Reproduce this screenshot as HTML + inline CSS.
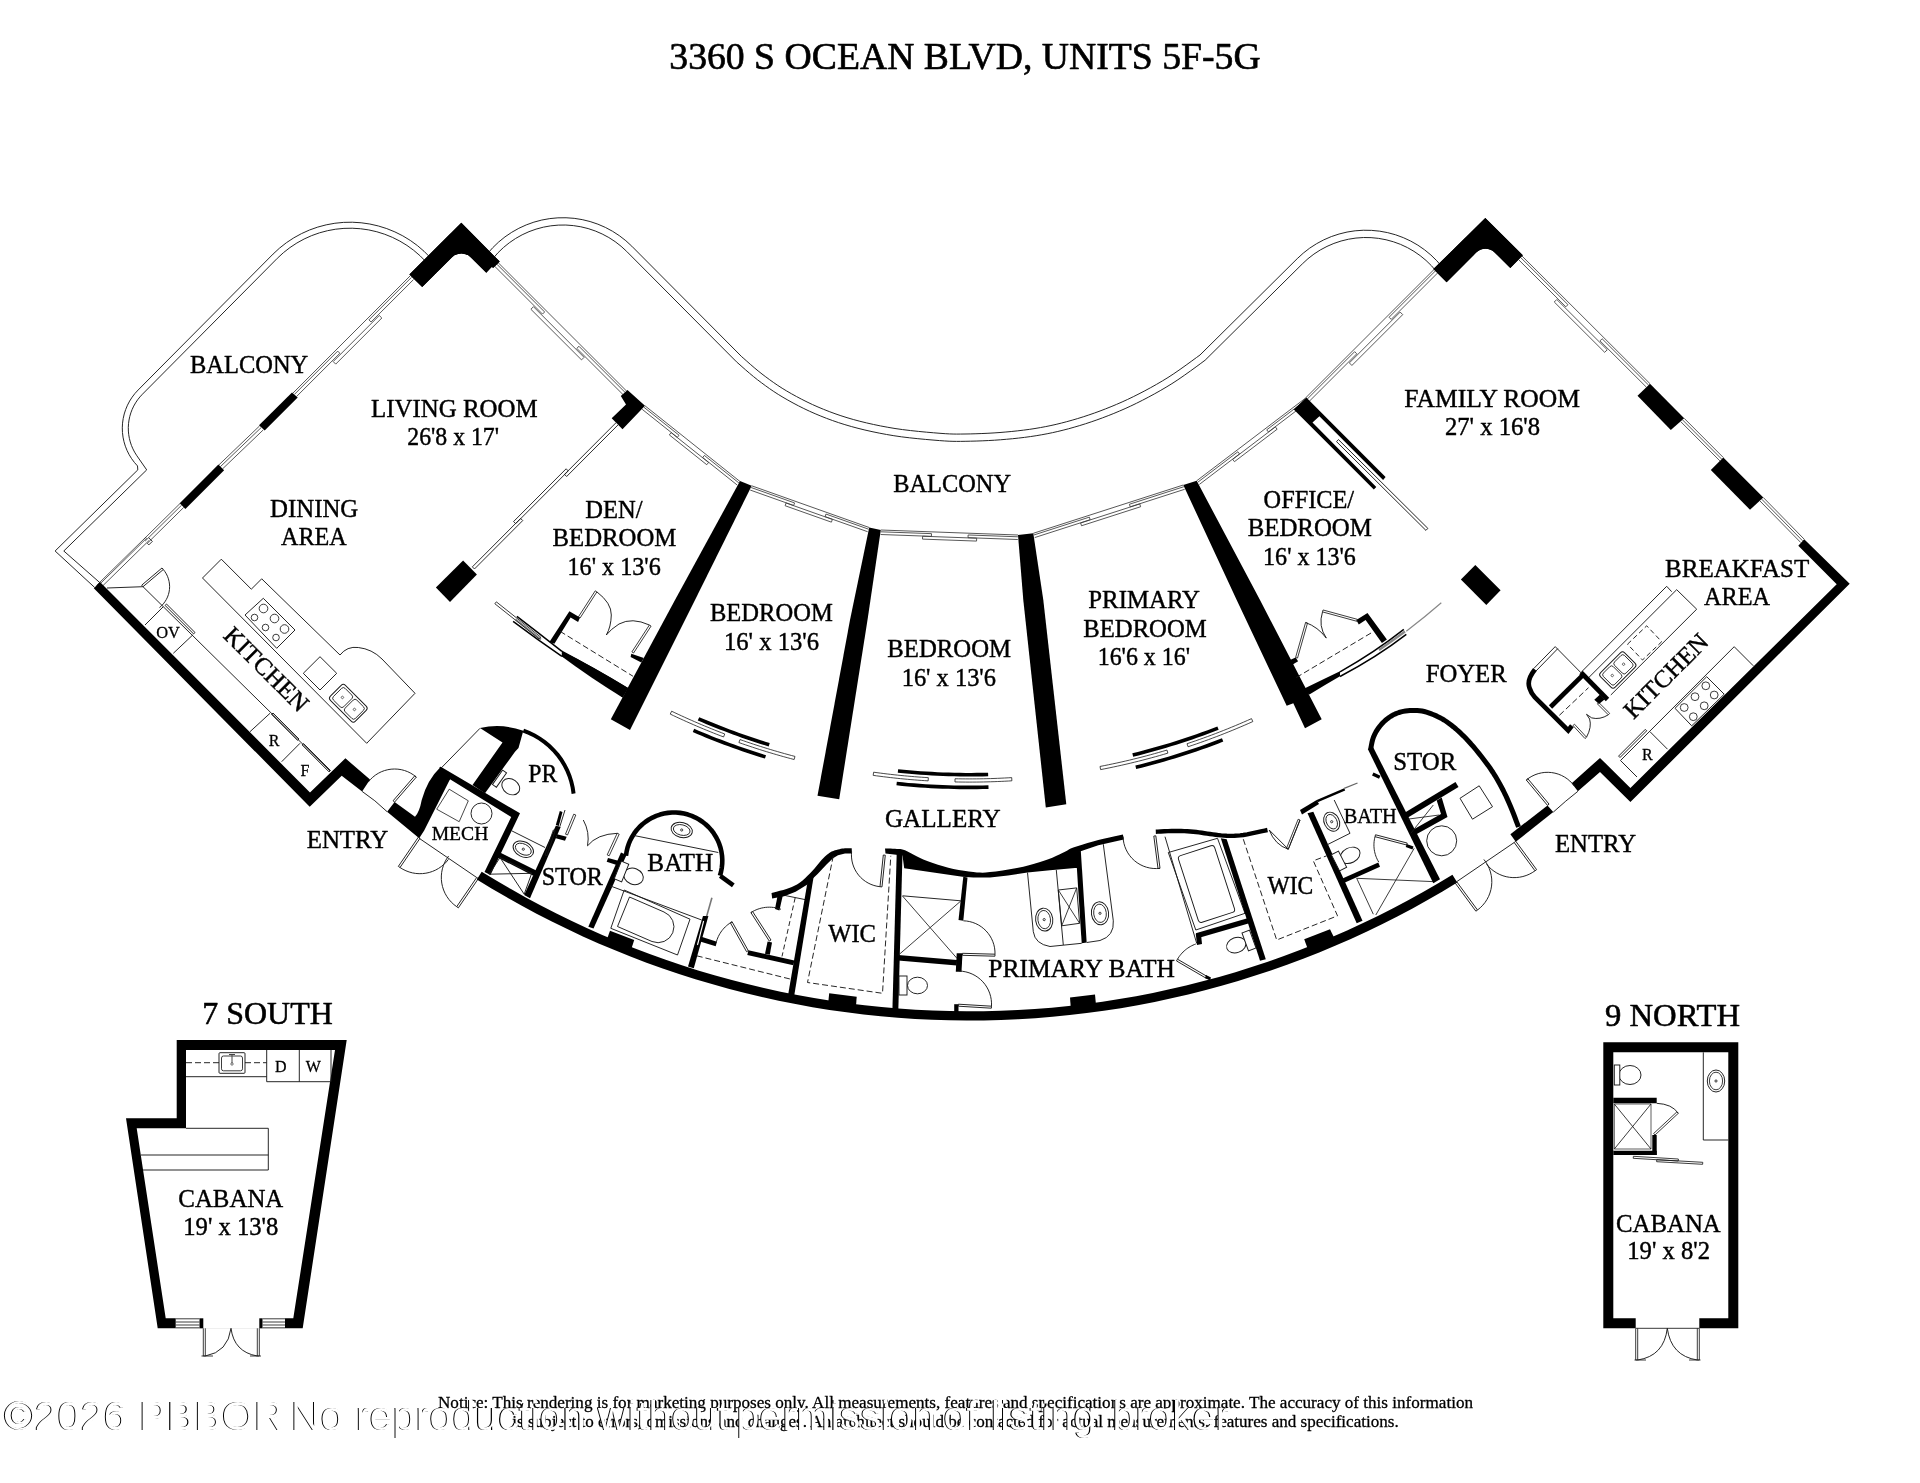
<!DOCTYPE html>
<html><head><meta charset="utf-8"><title>3360 S Ocean Blvd, Units 5F-5G</title>
<style>html,body{margin:0;padding:0;background:#fff}svg{display:block;will-change:transform}</style></head>
<body><svg width="1920" height="1483" viewBox="0 0 1920 1483">
<rect width="1920" height="1483" fill="#fff"/>
<text x="965" y="69.3" font-size="37.7" text-anchor="middle" font-family="'Liberation Serif','DejaVu Serif',serif" fill="#000" textLength="591.4" lengthAdjust="spacingAndGlyphs" stroke="#000" stroke-width="0.64" stroke-linejoin="round">3360 S OCEAN BLVD, UNITS 5F-5G</text>
<text x="249.15" y="372.7" font-size="24.7" text-anchor="middle" font-family="'Liberation Serif','DejaVu Serif',serif" fill="#000" textLength="118.3" lengthAdjust="spacingAndGlyphs" stroke="#000" stroke-width="0.42" stroke-linejoin="round">BALCONY</text>
<text x="454.35" y="416.7" font-size="24.7" text-anchor="middle" font-family="'Liberation Serif','DejaVu Serif',serif" fill="#000" textLength="166.7" lengthAdjust="spacingAndGlyphs" stroke="#000" stroke-width="0.42" stroke-linejoin="round">LIVING ROOM</text>
<text x="453.15" y="445" font-size="24.7" text-anchor="middle" font-family="'Liberation Serif','DejaVu Serif',serif" fill="#000" textLength="91.7" lengthAdjust="spacingAndGlyphs" stroke="#000" stroke-width="0.42" stroke-linejoin="round">26'8 x 17'</text>
<text x="314.15" y="516.7" font-size="24.7" text-anchor="middle" font-family="'Liberation Serif','DejaVu Serif',serif" fill="#000" textLength="88.3" lengthAdjust="spacingAndGlyphs" stroke="#000" stroke-width="0.42" stroke-linejoin="round">DINING</text>
<text x="313.85" y="545" font-size="24.7" text-anchor="middle" font-family="'Liberation Serif','DejaVu Serif',serif" fill="#000" textLength="65.7" lengthAdjust="spacingAndGlyphs" stroke="#000" stroke-width="0.42" stroke-linejoin="round">AREA</text>
<text x="613.9" y="517.5" font-size="24.7" text-anchor="middle" font-family="'Liberation Serif','DejaVu Serif',serif" fill="#000" textLength="57.2" lengthAdjust="spacingAndGlyphs" stroke="#000" stroke-width="0.42" stroke-linejoin="round">DEN/</text>
<text x="614.4" y="546.1" font-size="24.7" text-anchor="middle" font-family="'Liberation Serif','DejaVu Serif',serif" fill="#000" textLength="123.8" lengthAdjust="spacingAndGlyphs" stroke="#000" stroke-width="0.42" stroke-linejoin="round">BEDROOM</text>
<text x="614.15" y="574.7" font-size="24.7" text-anchor="middle" font-family="'Liberation Serif','DejaVu Serif',serif" fill="#000" textLength="93.3" lengthAdjust="spacingAndGlyphs" stroke="#000" stroke-width="0.42" stroke-linejoin="round">16' x 13'6</text>
<text x="952.15" y="491.7" font-size="24.7" text-anchor="middle" font-family="'Liberation Serif','DejaVu Serif',serif" fill="#000" textLength="117.7" lengthAdjust="spacingAndGlyphs" stroke="#000" stroke-width="0.42" stroke-linejoin="round">BALCONY</text>
<text x="771.35" y="621" font-size="24.7" text-anchor="middle" font-family="'Liberation Serif','DejaVu Serif',serif" fill="#000" textLength="122.7" lengthAdjust="spacingAndGlyphs" stroke="#000" stroke-width="0.42" stroke-linejoin="round">BEDROOM</text>
<text x="771.5" y="650" font-size="24.7" text-anchor="middle" font-family="'Liberation Serif','DejaVu Serif',serif" fill="#000" textLength="95" lengthAdjust="spacingAndGlyphs" stroke="#000" stroke-width="0.42" stroke-linejoin="round">16' x 13'6</text>
<text x="949.15" y="657.3" font-size="24.7" text-anchor="middle" font-family="'Liberation Serif','DejaVu Serif',serif" fill="#000" textLength="123.7" lengthAdjust="spacingAndGlyphs" stroke="#000" stroke-width="0.42" stroke-linejoin="round">BEDROOM</text>
<text x="948.85" y="685.7" font-size="24.7" text-anchor="middle" font-family="'Liberation Serif','DejaVu Serif',serif" fill="#000" textLength="94.3" lengthAdjust="spacingAndGlyphs" stroke="#000" stroke-width="0.42" stroke-linejoin="round">16' x 13'6</text>
<text x="1144.15" y="608.3" font-size="24.7" text-anchor="middle" font-family="'Liberation Serif','DejaVu Serif',serif" fill="#000" textLength="111.7" lengthAdjust="spacingAndGlyphs" stroke="#000" stroke-width="0.42" stroke-linejoin="round">PRIMARY</text>
<text x="1145" y="636.7" font-size="24.7" text-anchor="middle" font-family="'Liberation Serif','DejaVu Serif',serif" fill="#000" textLength="123.4" lengthAdjust="spacingAndGlyphs" stroke="#000" stroke-width="0.42" stroke-linejoin="round">BEDROOM</text>
<text x="1143.85" y="665" font-size="24.7" text-anchor="middle" font-family="'Liberation Serif','DejaVu Serif',serif" fill="#000" textLength="92.3" lengthAdjust="spacingAndGlyphs" stroke="#000" stroke-width="0.42" stroke-linejoin="round">16'6 x 16'</text>
<text x="1308.85" y="508" font-size="24.7" text-anchor="middle" font-family="'Liberation Serif','DejaVu Serif',serif" fill="#000" textLength="90.5" lengthAdjust="spacingAndGlyphs" stroke="#000" stroke-width="0.42" stroke-linejoin="round">OFFICE/</text>
<text x="1309.8" y="536.1" font-size="24.7" text-anchor="middle" font-family="'Liberation Serif','DejaVu Serif',serif" fill="#000" textLength="124.2" lengthAdjust="spacingAndGlyphs" stroke="#000" stroke-width="0.42" stroke-linejoin="round">BEDROOM</text>
<text x="1309.5" y="564.7" font-size="24.7" text-anchor="middle" font-family="'Liberation Serif','DejaVu Serif',serif" fill="#000" textLength="92.8" lengthAdjust="spacingAndGlyphs" stroke="#000" stroke-width="0.42" stroke-linejoin="round">16' x 13'6</text>
<text x="1492.15" y="406.7" font-size="25.2" text-anchor="middle" font-family="'Liberation Serif','DejaVu Serif',serif" fill="#000" textLength="175.7" lengthAdjust="spacingAndGlyphs" stroke="#000" stroke-width="0.43" stroke-linejoin="round">FAMILY ROOM</text>
<text x="1492.5" y="435" font-size="24.7" text-anchor="middle" font-family="'Liberation Serif','DejaVu Serif',serif" fill="#000" textLength="95" lengthAdjust="spacingAndGlyphs" stroke="#000" stroke-width="0.42" stroke-linejoin="round">27' x 16'8</text>
<text x="1737.15" y="576.7" font-size="24.7" text-anchor="middle" font-family="'Liberation Serif','DejaVu Serif',serif" fill="#000" textLength="144.3" lengthAdjust="spacingAndGlyphs" stroke="#000" stroke-width="0.42" stroke-linejoin="round">BREAKFAST</text>
<text x="1737" y="605" font-size="24.7" text-anchor="middle" font-family="'Liberation Serif','DejaVu Serif',serif" fill="#000" textLength="66" lengthAdjust="spacingAndGlyphs" stroke="#000" stroke-width="0.42" stroke-linejoin="round">AREA</text>
<text x="1466.2" y="681.7" font-size="24.7" text-anchor="middle" font-family="'Liberation Serif','DejaVu Serif',serif" fill="#000" textLength="81" lengthAdjust="spacingAndGlyphs" stroke="#000" stroke-width="0.42" stroke-linejoin="round">FOYER</text>
<text x="942.85" y="827.3" font-size="25" text-anchor="middle" font-family="'Liberation Serif','DejaVu Serif',serif" fill="#000" textLength="115.7" lengthAdjust="spacingAndGlyphs" stroke="#000" stroke-width="0.43" stroke-linejoin="round">GALLERY</text>
<text x="347.5" y="848.3" font-size="24.7" text-anchor="middle" font-family="'Liberation Serif','DejaVu Serif',serif" fill="#000" textLength="81.6" lengthAdjust="spacingAndGlyphs" stroke="#000" stroke-width="0.42" stroke-linejoin="round">ENTRY</text>
<text x="1595.5" y="851.7" font-size="24.7" text-anchor="middle" font-family="'Liberation Serif','DejaVu Serif',serif" fill="#000" textLength="81" lengthAdjust="spacingAndGlyphs" stroke="#000" stroke-width="0.42" stroke-linejoin="round">ENTRY</text>
<text x="460" y="840" font-size="19.6" text-anchor="middle" font-family="'Liberation Serif','DejaVu Serif',serif" fill="#000" textLength="56.6" lengthAdjust="spacingAndGlyphs" stroke="#000" stroke-width="0.33" stroke-linejoin="round">MECH</text>
<text x="542.8" y="781.7" font-size="24.7" text-anchor="middle" font-family="'Liberation Serif','DejaVu Serif',serif" fill="#000" textLength="29" lengthAdjust="spacingAndGlyphs" stroke="#000" stroke-width="0.42" stroke-linejoin="round">PR</text>
<text x="572.35" y="885" font-size="24.7" text-anchor="middle" font-family="'Liberation Serif','DejaVu Serif',serif" fill="#000" textLength="61.3" lengthAdjust="spacingAndGlyphs" stroke="#000" stroke-width="0.42" stroke-linejoin="round">STOR</text>
<text x="680.3" y="871.3" font-size="25" text-anchor="middle" font-family="'Liberation Serif','DejaVu Serif',serif" fill="#000" textLength="66" lengthAdjust="spacingAndGlyphs" stroke="#000" stroke-width="0.43" stroke-linejoin="round">BATH</text>
<text x="852.15" y="941.7" font-size="24.7" text-anchor="middle" font-family="'Liberation Serif','DejaVu Serif',serif" fill="#000" textLength="47.7" lengthAdjust="spacingAndGlyphs" stroke="#000" stroke-width="0.42" stroke-linejoin="round">WIC</text>
<text x="1081.65" y="976.7" font-size="25.2" text-anchor="middle" font-family="'Liberation Serif','DejaVu Serif',serif" fill="#000" textLength="186.7" lengthAdjust="spacingAndGlyphs" stroke="#000" stroke-width="0.43" stroke-linejoin="round">PRIMARY BATH</text>
<text x="1290.4" y="894.2" font-size="24.7" text-anchor="middle" font-family="'Liberation Serif','DejaVu Serif',serif" fill="#000" textLength="45.8" lengthAdjust="spacingAndGlyphs" stroke="#000" stroke-width="0.42" stroke-linejoin="round">WIC</text>
<text x="1370.2" y="823" font-size="20.3" text-anchor="middle" font-family="'Liberation Serif','DejaVu Serif',serif" fill="#000" textLength="53" lengthAdjust="spacingAndGlyphs" stroke="#000" stroke-width="0.35" stroke-linejoin="round">BATH</text>
<text x="1424.8" y="769.7" font-size="24.7" text-anchor="middle" font-family="'Liberation Serif','DejaVu Serif',serif" fill="#000" textLength="63" lengthAdjust="spacingAndGlyphs" stroke="#000" stroke-width="0.42" stroke-linejoin="round">STOR</text>
<text x="260.6" y="675.1" font-size="24.7" text-anchor="middle" font-family="'Liberation Serif','DejaVu Serif',serif" fill="#000" transform="rotate(45 260.6 675.1)" stroke="#000" stroke-width="0.42" stroke-linejoin="round">KITCHEN</text>
<text x="1671.7" y="681.7" font-size="24.7" text-anchor="middle" font-family="'Liberation Serif','DejaVu Serif',serif" fill="#000" transform="rotate(-45 1671.7 681.7)" stroke="#000" stroke-width="0.42" stroke-linejoin="round">KITCHEN</text>
<text x="168" y="637.5" font-size="16.4" text-anchor="middle" font-family="'Liberation Serif','DejaVu Serif',serif" fill="#000" stroke="#000" stroke-width="0.28" stroke-linejoin="round">OV</text>
<text x="274" y="746" font-size="16" text-anchor="middle" font-family="'Liberation Serif','DejaVu Serif',serif" fill="#000" stroke="#000" stroke-width="0.27" stroke-linejoin="round">R</text>
<text x="305" y="776" font-size="16" text-anchor="middle" font-family="'Liberation Serif','DejaVu Serif',serif" fill="#000" stroke="#000" stroke-width="0.27" stroke-linejoin="round">F</text>
<text x="1647.4" y="759.6" font-size="16" text-anchor="middle" font-family="'Liberation Serif','DejaVu Serif',serif" fill="#000" stroke="#000" stroke-width="0.27" stroke-linejoin="round">R</text>
<text x="267.5" y="1024" font-size="32" text-anchor="middle" font-family="'Liberation Serif','DejaVu Serif',serif" fill="#000" textLength="130.4" lengthAdjust="spacingAndGlyphs" stroke="#000" stroke-width="0.54" stroke-linejoin="round">7 SOUTH</text>
<text x="1672.5" y="1026" font-size="32.5" text-anchor="middle" font-family="'Liberation Serif','DejaVu Serif',serif" fill="#000" textLength="135" lengthAdjust="spacingAndGlyphs" stroke="#000" stroke-width="0.55" stroke-linejoin="round">9 NORTH</text>
<text x="230.8" y="1206.7" font-size="24.7" text-anchor="middle" font-family="'Liberation Serif','DejaVu Serif',serif" fill="#000" textLength="105" lengthAdjust="spacingAndGlyphs" stroke="#000" stroke-width="0.42" stroke-linejoin="round">CABANA</text>
<text x="230.8" y="1235" font-size="24.7" text-anchor="middle" font-family="'Liberation Serif','DejaVu Serif',serif" fill="#000" textLength="95" lengthAdjust="spacingAndGlyphs" stroke="#000" stroke-width="0.42" stroke-linejoin="round">19' x 13'8</text>
<text x="1668.35" y="1231.7" font-size="24.7" text-anchor="middle" font-family="'Liberation Serif','DejaVu Serif',serif" fill="#000" textLength="104.7" lengthAdjust="spacingAndGlyphs" stroke="#000" stroke-width="0.42" stroke-linejoin="round">CABANA</text>
<text x="1668.65" y="1259.3" font-size="24.7" text-anchor="middle" font-family="'Liberation Serif','DejaVu Serif',serif" fill="#000" textLength="82.7" lengthAdjust="spacingAndGlyphs" stroke="#000" stroke-width="0.42" stroke-linejoin="round">19' x 8'2</text>
<text x="280.7" y="1071.7" font-size="16" text-anchor="middle" font-family="'Liberation Serif','DejaVu Serif',serif" fill="#000" stroke="#000" stroke-width="0.27" stroke-linejoin="round">D</text>
<text x="313.3" y="1071.7" font-size="16" text-anchor="middle" font-family="'Liberation Serif','DejaVu Serif',serif" fill="#000" stroke="#000" stroke-width="0.27" stroke-linejoin="round">W</text>
<path d="M409.4,274.4 L461.3,222.8 L499.7,261.6 L493.4,267.8 L491.6,267 L486.3,272.8 L470.9,257.4 A13.5,13.5 0 0 0 451.8,257.4 L422.2,286.9 Z" fill="#000"/>
<polyline points="430.22,257.5 424.03,251.27 417.36,245.56 410.25,240.4 402.75,235.84 394.9,231.9 386.77,228.6 378.39,225.97 369.83,224.02 361.14,222.77 352.37,222.23 343.59,222.39 334.86,223.26 326.22,224.83 317.74,227.09 309.46,230.03 301.45,233.63 293.76,237.86 286.43,242.7 279.52,248.11 273.07,254.07 138.17,389.97 135.01,393.42 132.16,397.13 129.64,401.06 127.47,405.2 125.66,409.52 124.23,413.97 123.19,418.53 122.54,423.16 122.3,427.83 122.46,432.5 123.03,437.14 123.99,441.72 125.34,446.19 127.07,450.54 129.17,454.71 131.63,458.7 134.41,462.45 137.51,465.95 137.8,469.9 55.1,551 94.7,587.5" fill="none" stroke="#1a1a1a" stroke-width="0.95"/>
<polyline points="425.79,261.55 419.95,255.66 413.64,250.27 406.93,245.4 399.84,241.09 392.43,237.36 384.74,234.25 376.82,231.76 368.73,229.92 360.52,228.74 352.24,228.22 343.95,228.38 335.69,229.2 327.53,230.69 319.52,232.82 311.7,235.6 304.13,239 296.86,243 289.94,247.57 283.41,252.68 277.31,258.31 142.42,394.22 139.91,396.93 137.62,399.82 135.55,402.88 133.72,406.09 132.15,409.42 130.84,412.87 129.79,416.41 129.02,420.02 128.52,423.68 128.31,427.37 128.38,431.06 128.73,434.73 129.36,438.37 130.27,441.94 131.45,445.44 132.9,448.84 134.59,452.12 136.54,455.25 146.7,469.9 63.8,551 100,582.8" fill="none" stroke="#1a1a1a" stroke-width="0.95"/>
<polyline points="410,276 293,393" fill="none" stroke="#3a3a3a" stroke-width="0.85"/>
<polyline points="411.41,277.41 368.94,319.89 371.06,322.01 413.54,279.54" fill="none" stroke="#3a3a3a" stroke-width="0.85"/>
<polyline points="294.41,394.41 337.7,351.12 339.83,353.25 296.54,396.54" fill="none" stroke="#3a3a3a" stroke-width="0.85"/>
<polygon points="379.28,315.48 333.19,361.58 335.73,364.13 381.83,318.03" fill="none" stroke="#3a3a3a" stroke-width="0.85"/>
<polygon points="292,392.5 297.7,397.6 264.7,430.6 259,425.3" fill="#000"/>
<polyline points="259.5,426 218.8,465" fill="none" stroke="#3a3a3a" stroke-width="0.85"/>
<polyline points="261.09,427.66 220.39,466.66" fill="none" stroke="#3a3a3a" stroke-width="0.85"/>
<polyline points="263.24,429.9 222.54,468.9" fill="none" stroke="#3a3a3a" stroke-width="0.85"/>
<polygon points="218.4,464.6 224.1,470.3 185.4,509 179.7,503.3" fill="#000"/>
<polyline points="180,503.5 143.5,539.5" fill="none" stroke="#3a3a3a" stroke-width="0.85"/>
<polyline points="181.62,505.14 145.12,541.14" fill="none" stroke="#3a3a3a" stroke-width="0.85"/>
<polyline points="183.79,507.34 147.29,543.34" fill="none" stroke="#3a3a3a" stroke-width="0.85"/>
<polyline points="147.29,543.34 148.84,544.91 152.37,541.37 148.63,537.63" fill="none" stroke="#1a1a1a" stroke-width="0.85"/>
<polyline points="146,537 96.5,585.5" fill="none" stroke="#3a3a3a" stroke-width="0.85"/>
<polyline points="146.91,537.93 97.41,586.43" fill="none" stroke="#3a3a3a" stroke-width="0.85"/>
<polyline points="149.22,540.29 99.72,588.79" fill="none" stroke="#3a3a3a" stroke-width="0.85"/>
<polyline points="627,391.5 498.5,263" fill="none" stroke="#3a3a3a" stroke-width="0.85"/>
<polyline points="625.59,392.91 578.94,346.27 576.82,348.39 623.46,395.04" fill="none" stroke="#3a3a3a" stroke-width="0.85"/>
<polyline points="497.09,264.41 544.63,311.96 542.51,314.08 494.96,266.54" fill="none" stroke="#3a3a3a" stroke-width="0.85"/>
<polygon points="584.07,357.33 533.44,306.71 530.89,309.25 581.52,359.88" fill="none" stroke="#3a3a3a" stroke-width="0.85"/>
<polygon points="627.5,390 645,405.8 622.5,429.2 611.7,418.3 626,404.5 620.8,396" fill="#000"/>
<polygon points="616.36,422.36 564.52,474.38 566.64,476.5 618.48,424.48" fill="none" stroke="#1a1a1a" stroke-width="0.9"/>
<polygon points="566.14,468.79 513.58,521.53 515.7,523.65 568.26,470.91" fill="none" stroke="#1a1a1a" stroke-width="0.9"/>
<polygon points="520.6,518.45 472.36,566.86 474.48,568.98 522.72,520.57" fill="none" stroke="#1a1a1a" stroke-width="0.9"/>
<polygon points="435.9,587.5 463.1,560.6 476.9,574.4 450,601.9" fill="#000"/>
<polygon points="93.8,588.3 100,582 310,792.5 345.4,758.3 370,779.6 362.1,791.4 341.7,775.8 309.7,806.7" fill="#000"/>
<path d="M362.1,791.4 Q375,800 387.1,811.7" fill="none" stroke="#1a1a1a" stroke-width="0.95"/>
<polygon points="394.6,802.1 416.3,777.1 414.79,775.79 393.09,800.79" fill="none" stroke="#1a1a1a" stroke-width="0.95"/>
<polyline points="416.3,777.1 413.63,775.01 410.75,773.2 407.71,771.7 404.53,770.52 401.25,769.67 397.89,769.16 394.5,769 391.12,769.18 387.76,769.71 384.48,770.58 381.31,771.78 378.28,773.3 375.42,775.12 372.75,777.23 370.32,779.59 368.15,782.2" fill="none" stroke="#1a1a1a" stroke-width="0.95"/>
<path d="M387.1,811.7 L394.6,802.1 L415,816.7 Q419.5,812 421.7,800 Q427,780 440.8,766.7 L450,779.2 L424.2,830.4 L419.2,838.3 Z" fill="#000"/>
<polygon points="439.3,767.6 440.8,766.7 520,813.3 490.5,875 484.5,872 511.2,816.9 450,779.2 448.3,781" fill="#000"/>
<polyline points="441.7,767.5 480,728.3" fill="none" stroke="#1a1a1a" stroke-width="0.95"/>
<path d="M472.5,785 L502.5,742.5 L480,728 A77,77 0 0 1 523.3,730.8 L518.5,748 L515,751.7 L485,793.3 Z" fill="#000"/>
<polyline points="523.35,730.66 529.01,732.86 534.47,735.52 539.7,738.6 544.66,742.1 549.33,745.99 553.66,750.25 557.64,754.84 561.23,759.74 564.41,764.91 567.17,770.32 569.47,775.94 571.32,781.73 572.69,787.64 573.58,793.65" fill="none" stroke="#000" stroke-width="4"/>
<g transform="translate(499.5 778.7) rotate(35.2)"><ellipse cx="13.8" cy="0" rx="9.5" ry="7.5" fill="#fff" stroke="#1a1a1a" stroke-width="0.95"/><rect x="-2.4" y="-8.8" width="4.8" height="17.6" fill="#fff" stroke="#1a1a1a" stroke-width="0.95"/></g>
<polygon points="436.7,809.2 449.2,789.2 468.3,800.8 459.2,821.7" fill="none" stroke="#1a1a1a" stroke-width="0.8"/>
<circle cx="481.5" cy="813.5" r="10.5" fill="none" stroke="#1a1a1a" stroke-width="0.95"/>
<polyline points="419.2,838.3 476.7,877.5" fill="none" stroke="#1a1a1a" stroke-width="0.95"/>
<polygon points="420,838.3 400,867.5 398.35,866.37 418.35,837.17" fill="none" stroke="#1a1a1a" stroke-width="0.95"/>
<polyline points="400,867.5 402.89,869.28 405.94,870.78 409.12,871.98 412.39,872.87 415.74,873.44 419.13,873.68 422.53,873.6 425.9,873.2 429.21,872.47 432.45,871.43 435.57,870.09 438.54,868.45 441.34,866.53 443.95,864.36 446.34,861.94 448.48,859.31" fill="none" stroke="#1a1a1a" stroke-width="0.95"/>
<polygon points="476.7,877.5 456.7,906.7 458.35,907.83 478.35,878.63" fill="none" stroke="#1a1a1a" stroke-width="0.95"/>
<polyline points="456.7,906.7 453.85,904.52 451.23,902.07 448.87,899.36 446.8,896.43 445.03,893.31 443.6,890.02 442.5,886.6 441.75,883.09 441.37,879.52 441.34,875.94 441.68,872.36 442.38,868.84 443.44,865.41 444.83,862.11 446.55,858.96 448.59,856" fill="none" stroke="#1a1a1a" stroke-width="0.95"/>
<polyline points="107,588 143,586.7 163.3,606.7" fill="none" stroke="#1a1a1a" stroke-width="0.95"/>
<polygon points="143,586.7 163.3,569.5 162.01,567.97 141.71,585.17" fill="none" stroke="#1a1a1a" stroke-width="0.95"/>
<polyline points="163.3,569.5 164.92,571.62 166.32,573.89 167.49,576.29 168.41,578.8 169.07,581.38 169.47,584.02 169.61,586.69 169.47,589.35 169.08,591.99 168.41,594.58 167.5,597.09 166.33,599.49 164.93,601.76 163.31,603.88 161.49,605.83 159.48,607.59" fill="none" stroke="#1a1a1a" stroke-width="0.95"/>
<polyline points="163.3,606.7 330,771" fill="none" stroke="#1a1a1a" stroke-width="0.95"/>
<polyline points="145,625 163.3,606.7" fill="none" stroke="#1a1a1a" stroke-width="0.95"/>
<polyline points="173.3,653.3 192.7,635" fill="none" stroke="#1a1a1a" stroke-width="0.95"/>
<polygon points="166.5,604 195,632.5 193.59,633.91 165.09,605.41" fill="none" stroke="#1a1a1a" stroke-width="0.95"/>
<polyline points="250,731.7 270,713.3" fill="none" stroke="#1a1a1a" stroke-width="0.95"/>
<polyline points="281.7,761.7 300,743.3" fill="none" stroke="#1a1a1a" stroke-width="0.95"/>
<polygon points="273,713 299,739 297.59,740.41 271.59,714.41" fill="none" stroke="#1a1a1a" stroke-width="0.95"/>
<polygon points="303.5,743.5 330.5,770.5 329.09,771.91 302.09,744.91" fill="none" stroke="#1a1a1a" stroke-width="0.95"/>
<path d="M202.5,578 L221.3,559.2 L251.3,589.2 L261.7,578.8 L340,655 Q347,646 358.3,647.5 Q372,649 382,659 L415,693.3 L366.7,743.3 Z" fill="none" stroke="#1a1a1a" stroke-width="0.95"/>
<polygon points="245,615 263.3,598.3 295,630 276.7,648.3" fill="none" stroke="#1a1a1a" stroke-width="0.95"/>
<circle cx="263.5" cy="608.5" r="4.3" fill="none" stroke="#1a1a1a" stroke-width="0.85"/>
<circle cx="254.5" cy="617.5" r="3.3" fill="none" stroke="#1a1a1a" stroke-width="0.85"/>
<circle cx="274.5" cy="618.5" r="4.3" fill="none" stroke="#1a1a1a" stroke-width="0.85"/>
<circle cx="265.5" cy="627.5" r="3.3" fill="none" stroke="#1a1a1a" stroke-width="0.85"/>
<circle cx="284.5" cy="629" r="4.3" fill="none" stroke="#1a1a1a" stroke-width="0.85"/>
<circle cx="276" cy="637.5" r="3.3" fill="none" stroke="#1a1a1a" stroke-width="0.85"/>
<polygon points="303.3,673.3 320,656.7 336.7,673.3 320,690" fill="none" stroke="#1a1a1a" stroke-width="0.95"/>
<g transform="rotate(45 348.3 703.3)"><rect x="330.6" y="692.7" width="35.4" height="21.2" rx="3" fill="none" stroke="#1a1a1a" stroke-width="0.95"/><rect x="333" y="695" width="14.5" height="16.5" rx="2.5" fill="none" stroke="#1a1a1a" stroke-width="0.85"/><rect x="349.5" y="695" width="14.5" height="16.5" rx="2.5" fill="none" stroke="#1a1a1a" stroke-width="0.85"/><circle cx="340" cy="703.3" r="1.2" fill="none" stroke="#1a1a1a" stroke-width="0.6"/><circle cx="357" cy="703.3" r="1.2" fill="none" stroke="#1a1a1a" stroke-width="0.6"/></g>
<polyline points="487.38,253.77 492.77,247.66 498.65,242.02 504.98,236.89 511.72,232.31 518.82,228.31 526.23,224.91 533.9,222.15 541.77,220.04 549.79,218.6 557.9,217.83 566.05,217.75 574.18,218.34 582.23,219.62 590.14,221.56 597.87,224.16 605.35,227.4 612.53,231.25 619.36,235.69 625.8,240.68 631.8,246.2 741.7,356.7 743.86,358.59 746.8,361.2 750.31,364.29 754.16,367.61 758.13,370.93 762,374 765.79,376.86 769.66,379.73 773.66,382.58 777.81,385.42 782.15,388.23 786.7,391 791.49,393.77 796.5,396.54 801.69,399.28 807.03,401.96 812.48,404.55 818,407 823.58,409.33 829.23,411.56 835,413.69 840.91,415.72 847,417.66 853.3,419.5 859.84,421.25 866.6,422.91 873.54,424.48 880.62,425.94 887.78,427.28 895,428.5 902.54,429.59 910.5,430.56 918.54,431.42 926.36,432.16 933.62,432.79 940,433.3 945.21,433.68 949.44,433.92 953.12,434.04 956.67,434.08 960.49,434.06 965,434 970.25,433.91 975.93,433.76 981.88,433.54 987.96,433.27 994.05,432.92 1000,432.5 1005.87,432.01 1011.79,431.46 1017.71,430.83 1023.58,430.13 1029.36,429.36 1035,428.5 1040.46,427.57 1045.75,426.59 1050.96,425.52 1056.14,424.36 1061.36,423.09 1066.7,421.7 1072.16,420.18 1077.68,418.56 1083.25,416.82 1088.84,414.98 1094.43,413.04 1100,411 1105.53,408.88 1111.05,406.68 1116.56,404.38 1122.1,401.96 1127.67,399.41 1133.3,396.7 1139.03,393.82 1144.86,390.79 1150.73,387.61 1156.58,384.33 1162.36,380.95 1168,377.5 1173.86,373.68 1180.05,369.41 1186.17,365.05 1191.8,360.96 1196.55,357.49 1200,355 1297.2,258.7 1303.23,253.16 1309.7,248.14 1316.58,243.69 1323.8,239.83 1331.32,236.59 1339.09,234 1347.05,232.06 1355.14,230.81 1363.31,230.24 1371.5,230.36 1379.65,231.16 1387.7,232.65 1395.6,234.81 1403.29,237.63 1410.72,241.08 1417.83,245.15 1424.57,249.8 1430.9,255 1436.76,260.72 1442.13,266.9" fill="none" stroke="#1a1a1a" stroke-width="0.95"/>
<polyline points="492.86,258.6 498.04,252.71 503.48,247.49 509.34,242.75 515.57,238.51 522.14,234.81 528.99,231.67 536.08,229.12 543.36,227.17 550.78,225.83 558.29,225.12 565.82,225.04 573.34,225.6 580.79,226.78 588.11,228.57 595.25,230.98 602.17,233.97 608.81,237.53 615.13,241.64 621.09,246.26 626.64,251.36 736.53,361.85 739.03,364.06 741.96,366.67 745.51,369.79 749.43,373.18 753.52,376.6 757.53,379.77 761.42,382.71 765.37,385.63 769.48,388.57 773.77,391.5 778.27,394.41 782.98,397.28 787.9,400.12 793.02,402.96 798.34,405.77 803.82,408.52 809.43,411.18 815.11,413.71 820.83,416.09 826.63,418.38 832.55,420.56 838.62,422.65 844.87,424.64 851.33,426.53 858.03,428.32 864.93,430.02 872,431.62 879.21,433.1 886.51,434.47 893.87,435.71 901.58,436.83 909.67,437.82 917.81,438.68 925.7,439.43 933.01,440.06 939.44,440.58 944.73,440.96 949.11,441.21 952.96,441.34 956.65,441.38 960.56,441.36 965.11,441.3 970.42,441.2 976.15,441.05 982.17,440.84 988.34,440.56 994.51,440.21 1000.56,439.78 1006.52,439.28 1012.51,438.72 1018.52,438.09 1024.49,437.38 1030.39,436.58 1036.16,435.71 1041.74,434.76 1047.15,433.75 1052.49,432.66 1057.8,431.47 1063.14,430.17 1068.6,428.75 1074.17,427.2 1079.8,425.54 1085.48,423.77 1091.18,421.89 1096.88,419.91 1102.56,417.84 1108.19,415.68 1113.81,413.44 1119.43,411.09 1125.08,408.63 1130.77,406.02 1136.52,403.25 1142.36,400.32 1148.29,397.23 1154.26,394.01 1160.21,390.66 1166.1,387.21 1171.9,383.67 1177.93,379.74 1184.24,375.39 1190.43,370.98 1196.1,366.86 1200.84,363.39 1205.11,360.21 1302.33,263.9 1307.94,258.73 1313.93,254.09 1320.28,249.98 1326.97,246.41 1333.92,243.41 1341.11,241.01 1348.47,239.22 1355.96,238.06 1363.51,237.53 1371.09,237.64 1378.63,238.39 1386.08,239.77 1393.38,241.77 1400.49,244.37 1407.36,247.57 1413.94,251.33 1420.17,255.63 1426.03,260.44 1431.45,265.73 1436.61,271.69" fill="none" stroke="#1a1a1a" stroke-width="0.95"/>
<polygon points="740,481 751.7,485.8 695,600 630,730 610.8,719.2 675,600" fill="#000"/>
<polygon points="869.2,527.5 880.8,530 867.5,620 839.2,799.2 817.5,795.8 850,620" fill="#000"/>
<polygon points="1018,535 1033.3,533.3 1043.3,600 1066.3,804.2 1045.8,807.5 1023.3,600" fill="#000"/>
<polygon points="1183.3,485 1196.7,480.8 1260,600 1321.7,719.2 1305,728.3 1293.3,703.3 1286.7,705.8 1236.7,600" fill="#000"/>
<polyline points="740,481.5 645,405.8" fill="none" stroke="#3a3a3a" stroke-width="0.85"/>
<polyline points="738.88,482.91 704.39,455.43 702.71,457.54 737.2,485.02" fill="none" stroke="#3a3a3a" stroke-width="0.85"/>
<polyline points="643.88,407.21 679.03,435.22 677.35,437.33 642.2,409.32" fill="none" stroke="#3a3a3a" stroke-width="0.85"/>
<polygon points="708.57,462.47 671.14,432.64 669.33,434.91 706.76,464.73" fill="none" stroke="#3a3a3a" stroke-width="0.85"/>
<polyline points="869.2,527.5 751.7,485.8" fill="none" stroke="#3a3a3a" stroke-width="0.85"/>
<polyline points="868.6,529.2 825.95,514.06 825.04,516.6 867.69,531.74" fill="none" stroke="#3a3a3a" stroke-width="0.85"/>
<polyline points="751.1,487.5 794.57,502.93 793.67,505.47 750.19,490.04" fill="none" stroke="#3a3a3a" stroke-width="0.85"/>
<polygon points="832.38,519.42 786.08,502.99 785.11,505.72 831.41,522.15" fill="none" stroke="#3a3a3a" stroke-width="0.85"/>
<polyline points="1018,535 880.8,530" fill="none" stroke="#3a3a3a" stroke-width="0.85"/>
<polyline points="1017.93,536.8 968.13,534.98 968.03,537.68 1017.84,539.5" fill="none" stroke="#3a3a3a" stroke-width="0.85"/>
<polyline points="880.73,531.8 931.5,533.65 931.4,536.35 880.64,534.5" fill="none" stroke="#3a3a3a" stroke-width="0.85"/>
<polygon points="976.67,538.2 922.61,536.23 922.51,539.12 976.56,541.09" fill="none" stroke="#3a3a3a" stroke-width="0.85"/>
<polyline points="1183.3,485 1033.3,533.3" fill="none" stroke="#3a3a3a" stroke-width="0.85"/>
<polyline points="1183.85,486.71 1129.4,504.25 1130.23,506.82 1184.68,489.28" fill="none" stroke="#3a3a3a" stroke-width="0.85"/>
<polyline points="1033.85,535.01 1089.35,517.14 1090.18,519.71 1034.68,537.58" fill="none" stroke="#3a3a3a" stroke-width="0.85"/>
<polygon points="1139.74,503.96 1080.64,522.99 1081.53,525.75 1140.63,506.72" fill="none" stroke="#3a3a3a" stroke-width="0.85"/>
<polyline points="1305,398.5 1196.7,480.8" fill="none" stroke="#3a3a3a" stroke-width="0.85"/>
<polyline points="1306.09,399.93 1266.78,429.81 1268.41,431.96 1307.72,402.08" fill="none" stroke="#3a3a3a" stroke-width="0.85"/>
<polyline points="1197.79,482.23 1237.86,451.78 1239.49,453.93 1199.42,484.38" fill="none" stroke="#3a3a3a" stroke-width="0.85"/>
<polygon points="1275.35,426.93 1232.68,459.36 1234.44,461.67 1277.11,429.24" fill="none" stroke="#3a3a3a" stroke-width="0.85"/>
<polygon points="699.21,717.15 703.53,718.99 707.86,720.81 712.21,722.59 716.56,724.34 720.93,726.07 725.32,727.76 729.71,729.43 734.11,731.06 738.53,732.66 742.96,734.24 747.39,735.78 751.84,737.29 756.3,738.77 760.77,740.22 765.25,741.64 769.73,743.03 768.68,746.47 764.17,745.08 759.67,743.65 755.18,742.19 750.7,740.7 746.22,739.18 741.76,737.63 737.31,736.05 732.87,734.44 728.45,732.8 724.03,731.12 719.62,729.42 715.23,727.69 710.85,725.93 706.48,724.13 702.12,722.31 697.78,720.46" fill="#000"/>
<polygon points="694.18,728.81 698.58,730.69 703,732.54 707.42,734.36 711.86,736.14 716.31,737.9 720.78,739.62 725.25,741.32 729.74,742.98 734.24,744.62 738.75,746.22 743.27,747.79 747.8,749.33 752.34,750.84 756.89,752.31 761.45,753.76 766.02,755.18 764.97,758.62 760.37,757.2 755.79,755.74 751.21,754.26 746.65,752.74 742.1,751.19 737.55,749.61 733.02,748 728.5,746.36 723.99,744.69 719.49,742.99 715,741.25 710.53,739.49 706.07,737.69 701.62,735.86 697.18,734.01 692.76,732.12" fill="#000"/>
<polygon points="671.63,711.2 674.89,712.76 678.16,714.29 681.44,715.81 684.72,717.31 688.02,718.79 691.32,720.26 694.62,721.7 697.94,723.14 701.26,724.55 704.59,725.95 707.93,727.32 711.27,728.69 714.62,730.03 717.98,731.36 721.35,732.66 724.72,733.96 723.58,736.95 720.19,735.65 716.81,734.34 713.44,733 710.07,731.65 706.71,730.29 703.36,728.9 700.01,727.5 696.68,726.08 693.35,724.64 690.02,723.18 686.71,721.71 683.4,720.22 680.1,718.71 676.81,717.19 673.53,715.65 670.25,714.09" fill="none" stroke="#1a1a1a" stroke-width="0.8"/>
<polygon points="739.97,739.55 743.37,740.73 746.77,741.91 750.17,743.06 753.59,744.19 757,745.31 760.43,746.41 763.86,747.49 767.29,748.56 770.73,749.6 774.18,750.63 777.63,751.64 781.08,752.63 784.54,753.61 788.01,754.56 791.48,755.5 794.96,756.42 794.15,759.52 790.66,758.59 787.17,757.65 783.69,756.69 780.21,755.71 776.74,754.71 773.27,753.7 769.81,752.67 766.35,751.62 762.9,750.55 759.46,749.46 756.02,748.36 752.58,747.23 749.16,746.09 745.73,744.93 742.32,743.76 738.91,742.56" fill="none" stroke="#1a1a1a" stroke-width="0.8"/>
<polygon points="898.14,769.16 903.75,769.72 909.35,770.24 914.96,770.71 920.58,771.14 926.19,771.52 931.81,771.85 937.44,772.14 943.06,772.38 948.69,772.58 954.31,772.73 959.94,772.83 965.57,772.89 971.2,772.9 976.83,772.86 982.46,772.78 988.09,772.65 988.19,776.25 982.53,776.38 976.87,776.46 971.21,776.5 965.55,776.49 959.89,776.43 954.23,776.33 948.58,776.18 942.92,775.98 937.27,775.74 931.61,775.45 925.96,775.11 920.32,774.73 914.67,774.3 909.03,773.83 903.4,773.3 897.77,772.74" fill="#000"/>
<polygon points="896.82,781.79 902.52,782.36 908.23,782.89 913.95,783.37 919.66,783.81 925.39,784.19 931.11,784.54 936.84,784.83 942.57,785.08 948.3,785.27 954.03,785.43 959.76,785.53 965.5,785.59 971.23,785.6 976.97,785.56 982.7,785.48 988.43,785.35 988.53,788.94 982.77,789.08 977.01,789.16 971.24,789.2 965.48,789.19 959.71,789.13 953.95,789.03 948.19,788.87 942.43,788.67 936.67,788.42 930.91,788.13 925.16,787.79 919.41,787.4 913.66,786.96 907.92,786.48 902.18,785.94 896.44,785.37" fill="#000"/>
<polygon points="873.63,772.19 877.03,772.66 880.44,773.11 883.85,773.55 887.26,773.97 890.68,774.37 894.09,774.75 897.51,775.12 900.93,775.47 904.35,775.81 907.77,776.12 911.2,776.42 914.62,776.71 918.05,776.97 921.48,777.22 924.91,777.45 928.34,777.66 928.15,780.86 924.7,780.64 921.26,780.41 917.81,780.16 914.37,779.89 910.93,779.61 907.49,779.31 904.05,778.99 900.61,778.66 897.18,778.3 893.74,777.93 890.31,777.55 886.88,777.14 883.45,776.72 880.03,776.28 876.6,775.83 873.18,775.36" fill="none" stroke="#1a1a1a" stroke-width="0.8"/>
<polygon points="955.04,778.75 958.58,778.81 962.12,778.86 965.67,778.89 969.21,778.9 972.75,778.89 976.29,778.87 979.84,778.82 983.38,778.76 986.92,778.68 990.46,778.58 994,778.47 997.55,778.33 1001.09,778.18 1004.62,778.01 1008.16,777.82 1011.7,777.61 1011.89,780.81 1008.34,781.02 1004.79,781.21 1001.23,781.38 997.68,781.53 994.12,781.67 990.56,781.78 987,781.88 983.44,781.96 979.89,782.02 976.33,782.07 972.77,782.09 969.21,782.1 965.65,782.09 962.09,782.06 958.53,782.01 954.97,781.95" fill="none" stroke="#1a1a1a" stroke-width="0.8"/>
<polygon points="1132.31,753.25 1137.73,751.9 1143.13,750.51 1148.52,749.07 1153.89,747.59 1159.26,746.06 1164.61,744.49 1169.95,742.88 1175.28,741.23 1180.59,739.53 1185.89,737.78 1191.17,736 1196.44,734.17 1201.69,732.29 1206.93,730.38 1212.16,728.42 1217.36,726.42 1218.67,729.78 1213.43,731.79 1208.18,733.75 1202.92,735.68 1197.63,737.56 1192.34,739.4 1187.03,741.2 1181.7,742.95 1176.36,744.66 1171.01,746.32 1165.64,747.94 1160.26,749.52 1154.86,751.06 1149.46,752.55 1144.04,753.99 1138.61,755.39 1133.17,756.75" fill="#000"/>
<polygon points="1135.34,765.59 1140.85,764.21 1146.35,762.79 1151.84,761.33 1157.32,759.82 1162.78,758.27 1168.23,756.67 1173.67,755.02 1179.1,753.34 1184.51,751.61 1189.91,749.83 1195.29,748.01 1200.65,746.15 1206.01,744.24 1211.34,742.29 1216.66,740.29 1221.97,738.26 1223.27,741.61 1217.94,743.66 1212.59,745.66 1207.23,747.63 1201.85,749.54 1196.45,751.42 1191.04,753.24 1185.62,755.03 1180.18,756.77 1174.73,758.47 1169.26,760.12 1163.78,761.72 1158.29,763.29 1152.78,764.8 1147.26,766.28 1141.73,767.7 1136.19,769.08" fill="#000"/>
<polygon points="1100,766.46 1104.23,765.63 1108.45,764.78 1112.67,763.89 1116.89,762.99 1121.1,762.05 1125.3,761.09 1129.49,760.11 1133.68,759.09 1137.87,758.06 1142.04,756.99 1146.21,755.9 1150.38,754.78 1154.53,753.64 1158.68,752.47 1162.82,751.28 1166.96,750.06 1167.87,753.12 1163.72,754.35 1159.56,755.55 1155.39,756.72 1151.22,757.87 1147.03,758.99 1142.84,760.09 1138.65,761.16 1134.44,762.2 1130.24,763.22 1126.02,764.21 1121.8,765.18 1117.57,766.11 1113.34,767.03 1109.1,767.91 1104.85,768.77 1100.61,769.6" fill="none" stroke="#1a1a1a" stroke-width="0.8"/>
<polygon points="1187.04,743.72 1191.14,742.34 1195.24,740.94 1199.32,739.51 1203.39,738.06 1207.46,736.58 1211.51,735.08 1215.56,733.55 1219.59,731.99 1223.62,730.41 1227.64,728.8 1231.64,727.17 1235.64,725.52 1239.62,723.84 1243.6,722.13 1247.56,720.4 1251.51,718.64 1252.82,721.56 1248.85,723.33 1244.87,725.07 1240.88,726.78 1236.87,728.47 1232.86,730.13 1228.83,731.77 1224.8,733.39 1220.75,734.97 1216.7,736.54 1212.63,738.07 1208.56,739.58 1204.48,741.07 1200.38,742.53 1196.28,743.97 1192.17,745.37 1188.05,746.76" fill="none" stroke="#1a1a1a" stroke-width="0.8"/>
<polygon points="481.7,871.63 496.24,880.51 510.94,889.12 525.8,897.46 540.81,905.52 555.96,913.31 571.26,920.81 586.69,928.03 602.26,934.96 617.95,941.61 633.76,947.96 649.68,954.02 665.72,959.78 681.85,965.25 698.09,970.42 714.42,975.28 730.83,979.85 747.33,984.11 763.9,988.06 780.55,991.71 797.26,995.05 814.02,998.08 830.84,1000.8 847.71,1003.21 864.62,1005.3 881.56,1007.09 898.54,1008.56 915.54,1009.71 932.56,1010.56 949.59,1011.08 966.62,1011.3 983.66,1011.19 1000.69,1010.78 1017.72,1010.04 1034.72,1009 1051.71,1007.64 1068.66,1005.96 1085.59,1003.98 1102.47,1001.68 1119.31,999.06 1136.09,996.14 1152.82,992.91 1169.49,989.37 1186.09,985.52 1202.61,981.37 1219.05,976.91 1235.41,972.15 1251.68,967.09 1267.86,961.73 1283.93,956.07 1299.89,950.11 1315.74,943.86 1331.47,937.32 1347.08,930.48 1362.56,923.37 1377.91,915.96 1393.11,908.28 1408.18,900.31 1423.09,892.07 1437.84,883.55 1452.44,874.76 1457.26,882.6 1442.52,891.47 1427.61,900.08 1412.55,908.4 1397.34,916.45 1381.98,924.21 1366.48,931.69 1350.85,938.88 1335.08,945.78 1319.19,952.39 1303.19,958.7 1287.06,964.71 1270.83,970.43 1254.5,975.85 1238.07,980.96 1221.54,985.77 1204.94,990.27 1188.25,994.47 1171.48,998.35 1154.65,1001.93 1137.75,1005.19 1120.8,1008.14 1103.79,1010.78 1086.74,1013.1 1069.65,1015.11 1052.53,1016.8 1035.37,1018.17 1018.2,1019.23 1001,1019.97 983.8,1020.39 966.59,1020.5 949.39,1020.28 932.19,1019.75 915,1018.9 897.83,1017.73 880.69,1016.25 863.57,1014.44 846.49,1012.33 829.46,1009.89 812.47,1007.15 795.54,1004.09 778.66,1000.71 761.85,997.03 745.11,993.04 728.45,988.73 711.87,984.12 695.38,979.21 678.98,973.99 662.68,968.47 646.49,962.65 630.41,956.53 614.44,950.11 598.59,943.4 582.87,936.4 567.29,929.11 551.84,921.53 536.53,913.67 521.37,905.52 506.36,897.1 491.51,888.4 476.83,879.43" fill="#000"/>
<path d="M1433.4,269.1 L1485.3,218.1 L1522.8,255.3 L1510.3,268.1 L1494.6,252.4 A13,13 0 0 0 1476.2,252.6 L1446.6,282.2 Z" fill="#000"/>
<polyline points="1434.5,269 1305.5,398" fill="none" stroke="#3a3a3a" stroke-width="0.85"/>
<polyline points="1435.91,270.41 1389.09,317.24 1391.21,319.36 1438.04,272.54" fill="none" stroke="#3a3a3a" stroke-width="0.85"/>
<polyline points="1306.91,399.41 1354.64,351.68 1356.77,353.81 1309.04,401.54" fill="none" stroke="#3a3a3a" stroke-width="0.85"/>
<polygon points="1400.18,312.08 1349.36,362.91 1351.9,365.46 1402.73,314.63" fill="none" stroke="#3a3a3a" stroke-width="0.85"/>
<polygon points="1306.3,397.5 1385.6,476.9 1383.1,480 1319.4,416.3 1312.5,422.5 1376.3,486.9 1373.8,489.4 1293.8,409.4" fill="#000"/>
<polygon points="1336.51,441.59 1425.91,530.39 1427.89,528.41 1338.49,439.61" fill="none" stroke="#1a1a1a" stroke-width="0.95"/>
<polyline points="1650,383.7 1522,256" fill="none" stroke="#3a3a3a" stroke-width="0.85"/>
<polyline points="1648.59,385.12 1602.12,338.76 1600,340.88 1646.47,387.24" fill="none" stroke="#3a3a3a" stroke-width="0.85"/>
<polyline points="1520.59,257.42 1567.95,304.66 1565.83,306.79 1518.47,259.54" fill="none" stroke="#3a3a3a" stroke-width="0.85"/>
<polygon points="1607.22,349.78 1556.79,299.47 1554.25,302.01 1604.68,352.33" fill="none" stroke="#3a3a3a" stroke-width="0.85"/>
<polygon points="1650,383.7 1684.2,418.3 1670.8,430 1637.5,395.8" fill="#000"/>
<polyline points="1723.3,457.5 1684.2,418.3" fill="none" stroke="#3a3a3a" stroke-width="0.85"/>
<polyline points="1721.67,459.12 1682.57,419.92" fill="none" stroke="#3a3a3a" stroke-width="0.85"/>
<polyline points="1719.9,460.89 1680.8,421.69" fill="none" stroke="#3a3a3a" stroke-width="0.85"/>
<polygon points="1723.3,457.5 1763.3,497.5 1750,509.7 1710.8,470" fill="#000"/>
<polyline points="1804.2,539.2 1763.3,497.5" fill="none" stroke="#3a3a3a" stroke-width="0.85"/>
<polyline points="1802.56,540.81 1761.66,499.11" fill="none" stroke="#3a3a3a" stroke-width="0.85"/>
<polyline points="1800.77,542.56 1759.87,500.86" fill="none" stroke="#3a3a3a" stroke-width="0.85"/>
<polygon points="1804.2,539.2 1849.7,583.7 1630.4,802.1 1600,772.1 1577.9,791.3 1571.7,783.3 1600,757.9 1630.4,787.9 1836.7,584.2 1798.3,545.8" fill="#000"/>
<polygon points="1460.9,579.4 1475.3,565 1500.6,590.3 1486.3,605" fill="#000"/>
<path d="M1577.9,791.3 Q1566,800.5 1553.3,812.1" fill="none" stroke="#1a1a1a" stroke-width="0.95"/>
<polygon points="1547.5,805.4 1526.3,780 1527.84,778.72 1549.04,804.12" fill="none" stroke="#1a1a1a" stroke-width="0.95"/>
<polyline points="1526.3,780 1529.01,777.96 1531.92,776.22 1534.99,774.77 1538.19,773.65 1541.49,772.87 1544.85,772.42 1548.24,772.32 1551.62,772.57 1554.96,773.17 1558.22,774.1 1561.36,775.36 1564.37,776.94 1567.19,778.81 1569.81,780.97 1572.19,783.38 1574.32,786.02" fill="none" stroke="#1a1a1a" stroke-width="0.95"/>
<polygon points="1547.5,805.4 1553.3,812.1 1515.8,841.7 1510.4,834.2" fill="#000"/>
<polyline points="1514.2,842.5 1456.7,881.7" fill="none" stroke="#1a1a1a" stroke-width="0.95"/>
<polygon points="1514.2,842.5 1535,870.8 1536.61,869.62 1515.81,841.32" fill="none" stroke="#1a1a1a" stroke-width="0.95"/>
<polyline points="1535,870.8 1532.19,872.66 1529.22,874.25 1526.11,875.54 1522.88,876.53 1519.58,877.21 1516.23,877.56 1512.86,877.6 1509.5,877.31 1506.19,876.7 1502.95,875.77 1499.81,874.54 1496.81,873.01 1493.96,871.2 1491.3,869.13 1488.86,866.82 1486.64,864.27" fill="none" stroke="#1a1a1a" stroke-width="0.95"/>
<polygon points="1456.7,881.7 1477.5,910 1475.89,911.18 1455.09,882.88" fill="none" stroke="#1a1a1a" stroke-width="0.95"/>
<polyline points="1477.5,910 1480.26,907.75 1482.78,905.23 1485.02,902.47 1486.98,899.49 1488.63,896.33 1489.95,893.02 1490.92,889.6 1491.55,886.09 1491.81,882.54 1491.72,878.98 1491.26,875.45 1490.45,871.98 1489.29,868.61 1487.8,865.38 1485.99,862.31 1483.87,859.45" fill="none" stroke="#1a1a1a" stroke-width="0.95"/>
<polyline points="1753.3,665.8 1734.2,646.7 1620.5,760.5" fill="none" stroke="#1a1a1a" stroke-width="0.95"/>
<polygon points="1706.7,676.7 1724.2,694.2 1691.7,725.8 1675,708.3" fill="none" stroke="#1a1a1a" stroke-width="0.95"/>
<circle cx="1705.8" cy="685.8" r="3.9" fill="none" stroke="#1a1a1a" stroke-width="0.85"/>
<circle cx="1714.2" cy="695" r="3.9" fill="none" stroke="#1a1a1a" stroke-width="0.85"/>
<circle cx="1695" cy="696.7" r="3.9" fill="none" stroke="#1a1a1a" stroke-width="0.85"/>
<circle cx="1704.2" cy="705.8" r="3.9" fill="none" stroke="#1a1a1a" stroke-width="0.85"/>
<circle cx="1684.2" cy="707.5" r="3.9" fill="none" stroke="#1a1a1a" stroke-width="0.85"/>
<circle cx="1693.3" cy="716.7" r="3.9" fill="none" stroke="#1a1a1a" stroke-width="0.85"/>
<polyline points="1650,731.7 1667.5,749.2" fill="none" stroke="#1a1a1a" stroke-width="0.95"/>
<polygon points="1620,757.5 1646.7,730.8 1645.29,729.39 1618.59,756.09" fill="none" stroke="#1a1a1a" stroke-width="0.95"/>
<polyline points="1620.5,760.5 1637,777" fill="none" stroke="#1a1a1a" stroke-width="0.95"/>
<polyline points="1581.7,671.7 1666.7,586.3 1671.7,591.7" fill="none" stroke="#1a1a1a" stroke-width="0.95"/>
<polyline points="1588.3,678 1676.7,589.7 1696.7,609.2 1610.8,695" fill="none" stroke="#1a1a1a" stroke-width="0.95"/>
<polygon points="1627.5,644.2 1646.7,625.8 1661.7,641.7 1642.5,660" fill="none" stroke="#1a1a1a" stroke-width="0.95" stroke-dasharray="5 3"/>
<g transform="rotate(-45 1617.8 670)"><rect x="1600.8" y="1659.7" width="0" height="0"/><rect x="1600.8" y="659.7" width="34" height="20.6" rx="3" fill="none" stroke="#1a1a1a" stroke-width="0.95"/><rect x="1603" y="662" width="14" height="16" rx="2.5" fill="none" stroke="#1a1a1a" stroke-width="0.85"/><rect x="1618.8" y="662" width="14" height="16" rx="2.5" fill="none" stroke="#1a1a1a" stroke-width="0.85"/><circle cx="1610" cy="670" r="1.2" fill="none" stroke="#1a1a1a" stroke-width="0.6"/><circle cx="1626" cy="670" r="1.2" fill="none" stroke="#1a1a1a" stroke-width="0.6"/></g>
<polygon points="500,852.5 536.7,870.8 533.3,875.8 497.5,857.5" fill="#000"/>
<polyline points="489.2,874.2 500,857.5 531.7,873.3 524.2,894.2" fill="none" stroke="#1a1a1a" stroke-width="0.95"/>
<polyline points="500,857.5 524.2,894.2" fill="none" stroke="#1a1a1a" stroke-width="0.95"/>
<polyline points="489.2,874.2 531.7,873.3" fill="none" stroke="#1a1a1a" stroke-width="0.95"/>
<polyline points="511.7,830.8 545,847.5" fill="none" stroke="#1a1a1a" stroke-width="0.95"/>
<ellipse cx="523.3" cy="849.2" rx="10.8" ry="7.5" transform="rotate(27 523.3 849.2)" fill="none" stroke="#1a1a1a" stroke-width="0.95"/>
<ellipse cx="523.3" cy="849.2" rx="8.5" ry="5.2" transform="rotate(27 523.3 849.2)" fill="none" stroke="#1a1a1a" stroke-width="0.85"/>
<circle cx="523.3" cy="849.2" r="1.1" fill="none" stroke="#1a1a1a" stroke-width="0.85"/>
<polygon points="555.8,825.8 560.8,826.7 530,898.3 524.2,895" fill="#000"/>
<polygon points="557,834.2 566.7,836.7 565,840.8 555.8,838.3" fill="#000"/>
<polygon points="555.8,825 558.8,826 562.5,812 559.8,811" fill="#000"/>
<polyline points="565,810 560,826" fill="none" stroke="#1a1a1a" stroke-width="0.95"/>
<polygon points="553.3,830 545,855 546.9,855.63 555.2,830.63" fill="none" stroke="#1a1a1a" stroke-width="0.85"/>
<polygon points="575.8,815 567.5,835 565.47,834.16 573.77,814.16" fill="none" stroke="#1a1a1a" stroke-width="0.85"/>
<path d="M583.3,820 Q590,832 587.5,845.8" fill="none" stroke="#1a1a1a" stroke-width="0.95"/>
<path d="M587.5,845.8 Q597,834 617.5,833.3" fill="none" stroke="#1a1a1a" stroke-width="0.95"/>
<polygon points="619.2,834.2 609.2,855.8 607.2,854.88 617.2,833.28" fill="none" stroke="#1a1a1a" stroke-width="0.85"/>
<polygon points="588.3,926.7 593.5,928.6 626.5,855 621,852.5" fill="#000"/>
<polyline points="625.96,855.75 626.56,851.75 627.48,847.81 628.73,843.96 630.3,840.23 632.17,836.65 634.34,833.23 636.78,830.01 639.49,827.01 642.44,824.24 645.61,821.72 648.98,819.49 652.52,817.54 656.22,815.89 660.04,814.56 663.96,813.56 667.95,812.88 671.98,812.54 676.02,812.54 680.05,812.88 684.04,813.56 687.96,814.56 691.78,815.89 695.48,817.54 699.02,819.49 702.39,821.72 705.56,824.24 708.51,827.01 711.22,830.01 713.66,833.23 715.83,836.65 717.7,840.23 719.27,843.96 720.52,847.81 721.44,851.75 722.04,855.75 722.29,859.79 722.2,863.83 721.78,867.86 721.02,871.83 719.94,875.73" fill="none" stroke="#000" stroke-width="4.6" stroke-linejoin="round" stroke-linecap="butt"/>
<polygon points="608,858 618.3,860.8 616.7,865 606.7,861.7" fill="#000"/>
<polyline points="720.3,875.8 733.3,885.3" fill="none" stroke="#000" stroke-width="4.6" stroke-linejoin="round" stroke-linecap="butt"/>
<polyline points="634,835.5 718.3,852.5" fill="none" stroke="#1a1a1a" stroke-width="0.95"/>
<ellipse cx="681.7" cy="830" rx="10.8" ry="7.5" transform="rotate(14 681.7 830)" fill="none" stroke="#1a1a1a" stroke-width="0.95"/>
<ellipse cx="681.7" cy="830" rx="8.5" ry="5.2" transform="rotate(14 681.7 830)" fill="none" stroke="#1a1a1a" stroke-width="0.85"/>
<circle cx="681.7" cy="830" r="1.1" fill="none" stroke="#1a1a1a" stroke-width="0.85"/>
<g transform="translate(621.5 871.5) rotate(22)"><ellipse cx="13" cy="0" rx="10" ry="8" fill="#fff" stroke="#1a1a1a" stroke-width="0.95"/><rect x="-4" y="-9.5" width="8" height="19" fill="#fff" stroke="#1a1a1a" stroke-width="0.95"/></g>
<polyline points="610,885.8 701.7,920" fill="none" stroke="#1a1a1a" stroke-width="0.95"/>
<polygon points="624.2,890 690,919.2 677.5,955 610.8,928.3" fill="none" stroke="#1a1a1a" stroke-width="0.95"/>
<path d="M629.5,897 L664,912 A15.8,15.8 0 0 1 652,941.5 L617.5,926.5 Z" fill="none" stroke="#1a1a1a" stroke-width="0.95"/>
<polygon points="610,930.8 634.2,940 631,950 606.5,940.5" fill="#000"/>
<polygon points="703,916.1 708.4,916.1 693.8,968.3 688,966.5" fill="#000"/>
<polygon points="701.4,936.8 716.9,941.7 715.7,946.2 700.1,941.6" fill="#000"/>
<polyline points="711.9,897.7 706.7,916.1" fill="none" stroke="#777" stroke-width="1.6"/>
<polyline points="703.6,921 697.5,945" fill="none" stroke="#fff" stroke-width="1.1"/>
<polyline points="696.7,955.8 790.8,979.2" fill="none" stroke="#1a1a1a" stroke-width="0.95" stroke-dasharray="6 3"/>
<polygon points="748.3,950.7 732.1,921.8 730.36,922.78 746.56,951.68" fill="none" stroke="#1a1a1a" stroke-width="0.95"/>
<polyline points="732.1,921.8 730.64,922.67 729.23,923.61 727.86,924.62 726.55,925.7 725.3,926.85 724.11,928.06 722.98,929.33 721.92,930.66 720.93,932.03 720.01,933.46 719.16,934.93 718.39,936.45 717.7,938 717.09,939.59 716.56,941.2 716.12,942.84" fill="none" stroke="#1a1a1a" stroke-width="0.95"/>
<polygon points="748.4,950.3 794.4,960.4 793.3,965.2 747.3,955.1" fill="#000"/>
<polygon points="767.6,941.5 772,942.4 769.8,954.7 765,953.8" fill="#000"/>
<polygon points="777.7,895.1 782.9,895.1 779.4,910.4 775,909.1" fill="#000"/>
<polygon points="769.3,941.1 750.9,912.6 752.58,911.52 770.98,940.02" fill="none" stroke="#1a1a1a" stroke-width="0.95"/>
<polyline points="750.9,912.6 752.58,911.58 754.31,910.67 756.09,909.85 757.92,909.14 759.79,908.54 761.69,908.04 763.61,907.66 765.55,907.38 767.5,907.22 769.46,907.18 771.42,907.24 773.38,907.42 775.32,907.71 777.24,908.12 779.13,908.63 780.99,909.25" fill="none" stroke="#1a1a1a" stroke-width="0.95"/>
<polyline points="785.1,895.5 806.6,899.9" fill="none" stroke="#1a1a1a" stroke-width="0.95"/>
<polyline points="795.2,897.7 782,956.4" fill="none" stroke="#1a1a1a" stroke-width="0.95" stroke-dasharray="5 3"/>
<polygon points="771.5,892.9 773.55,892.39 776.47,891.69 779.85,890.84 783.29,889.9 786.4,888.9 789.15,887.91 791.81,886.91 794.41,885.79 796.99,884.45 799.6,882.8 802.3,880.71 805.05,878.24 807.77,875.59 810.36,872.94 812.7,870.5 814.74,868.24 816.54,866.03 818.21,863.9 819.83,861.88 821.5,860 823.23,858.24 824.95,856.57 826.65,855.03 828.34,853.66 830,852.5 831.65,851.58 833.28,850.89 834.9,850.35 836.47,849.91 838,849.5 839.47,849.13 840.89,848.83 842.27,848.61 843.64,848.43 845,848.3 846.47,848.22 848.02,848.21 849.52,848.24 850.79,848.28 851.7,848.3 852,853.6 845,853.6 838,855.3 833,858.3 826.5,864.5 817.6,874 811.5,879.8 807,884.7 795.6,891.7 784.2,896.3 772.2,898.5" fill="#000"/>
<polygon points="808.3,877.5 814.2,873.3 794,997 788,995.5" fill="#000"/>
<polygon points="896.7,853.3 902.5,853.3 898.3,1011 892.4,1010.5" fill="#000"/>
<polyline points="833.3,855.8 807.5,982.5 882.5,993.3 890.8,855.8" fill="none" stroke="#1a1a1a" stroke-width="0.95" stroke-dasharray="6 3"/>
<polygon points="883.3,855 880,886.7 881.99,886.91 885.29,855.21" fill="none" stroke="#1a1a1a" stroke-width="0.95"/>
<polyline points="880,886.7 876.91,886.22 873.88,885.45 870.94,884.38 868.12,883.02 865.45,881.4 862.94,879.52 860.64,877.41 858.55,875.08 856.7,872.56 855.11,869.87 853.79,867.03 852.75,864.08 852.01,861.04 851.57,857.95 851.43,854.82 851.6,851.7" fill="none" stroke="#1a1a1a" stroke-width="0.95"/>
<polygon points="829.2,993.3 856.7,996.7 856,1006 828.2,1003" fill="#000"/>
<polygon points="885,848.5 886.36,848.52 888.28,848.54 890.52,848.58 892.84,848.66 895,848.8 896.87,848.9 898.6,848.94 900.4,849.09 902.47,849.49 905,850.3 908.02,851.66 911.4,853.47 915.1,855.52 919.08,857.6 923.3,859.5 927.87,861.27 932.82,863.04 937.98,864.75 943.19,866.33 948.3,867.7 953.43,868.88 958.7,869.9 963.9,870.77 968.83,871.47 973.3,872 976.91,872.38 979.78,872.61 982.52,872.66 985.73,872.5 990,872.1 995.73,871.41 1002.52,870.44 1009.78,869.28 1016.91,868 1023.3,866.7 1028.96,865.33 1034.3,863.85 1039.3,862.3 1043.96,860.73 1048.3,859.2 1052.31,857.65 1055.98,856.04 1059.32,854.46 1062.33,852.99 1065,851.7 1066.93,850.7 1068.12,849.94 1069.18,849.26 1070.71,848.5 1073.3,847.5 1077.24,846.18 1082.12,844.64 1087.53,843.01 1093.06,841.42 1098.3,840 1103.64,838.7 1109.35,837.43 1114.85,836.27 1119.56,835.3 1122.9,834.6 1123.8,839.6 1098.3,845.3 1079.2,851.7 1080.3,868 1075,867.9 1050,870.3 1027.5,872.6 1008,875.5 990,877.5 973.3,877.5 962.5,876.7 904.2,868.3 902.5,855.5 885.5,853.5" fill="#000"/>
<polygon points="963.3,876.7 967.5,877.5 963.3,920.8 958.5,920" fill="#000"/>
<polygon points="956.7,953.3 962.5,953.3 961.5,971.7 955.8,971.7" fill="#000"/>
<polygon points="898.3,955 957,960 956.7,965.5 898,960.5" fill="#000"/>
<polyline points="902.5,895.8 960.8,900.8" fill="none" stroke="#1a1a1a" stroke-width="0.95"/>
<polyline points="902.5,896 956.7,958" fill="none" stroke="#1a1a1a" stroke-width="0.85"/>
<polyline points="960.8,901 898.5,955" fill="none" stroke="#1a1a1a" stroke-width="0.85"/>
<polygon points="962.5,953.3 995,954.2 994.94,956.2 962.44,955.3" fill="none" stroke="#1a1a1a" stroke-width="0.95"/>
<polyline points="995,954.2 994.93,951.01 994.55,947.84 993.86,944.73 992.87,941.69 991.59,938.77 990.02,935.99 988.19,933.38 986.12,930.96 983.81,928.75 981.3,926.78 978.61,925.06 975.77,923.62 972.8,922.46 969.72,921.6 966.58,921.04 963.4,920.8" fill="none" stroke="#1a1a1a" stroke-width="0.95"/>
<g transform="translate(903 985.5) rotate(0)"><ellipse cx="14.5" cy="0" rx="10" ry="8.3" fill="#fff" stroke="#1a1a1a" stroke-width="0.95"/><rect x="-4" y="-9.5" width="8" height="19" fill="#fff" stroke="#1a1a1a" stroke-width="0.95"/></g>
<polygon points="954.2,1004.2 958.5,1004.2 958.5,1012.5 954.2,1012.5" fill="#000"/>
<polygon points="958.4,1004.2 991.5,1006.2 991.38,1008.2 958.28,1006.2" fill="none" stroke="#1a1a1a" stroke-width="0.95"/>
<polyline points="991.5,1006.2 991.53,1002.87 991.23,999.56 990.6,996.29 989.65,993.11 988.38,990.03 986.81,987.1 984.96,984.34 982.83,981.78 980.46,979.44 977.87,977.36 975.08,975.54 972.13,974.02 969.04,972.79 965.84,971.88 962.56,971.3 959.24,971.05" fill="none" stroke="#1a1a1a" stroke-width="0.95"/>
<polygon points="1075.8,851.7 1080.8,850.8 1086.7,942.5 1081.7,943.3" fill="#000"/>
<path d="M1027.5,872.5 L1033.3,931.7 Q1035,944 1050,946.5 L1081.7,943.3" fill="none" stroke="#1a1a1a" stroke-width="0.95"/>
<polyline points="1056.3,870 1063.3,945" fill="none" stroke="#1a1a1a" stroke-width="0.95"/>
<polyline points="1058.3,890 1076.7,887.9 1079.6,923.3 1061.7,925.8 1058.3,890" fill="none" stroke="#1a1a1a" stroke-width="0.95"/>
<polyline points="1058.3,890 1079.6,923.3" fill="none" stroke="#1a1a1a" stroke-width="0.85"/>
<polyline points="1076.7,887.9 1061.7,925.8" fill="none" stroke="#1a1a1a" stroke-width="0.85"/>
<ellipse cx="1044.2" cy="919.6" rx="11.5" ry="8.6" transform="rotate(83 1044.2 919.6)" fill="none" stroke="#1a1a1a" stroke-width="0.95"/>
<ellipse cx="1044.2" cy="919.6" rx="9.2" ry="6.3" transform="rotate(83 1044.2 919.6)" fill="none" stroke="#1a1a1a" stroke-width="0.85"/>
<circle cx="1044.2" cy="919.6" r="1.1" fill="none" stroke="#1a1a1a" stroke-width="0.85"/>
<path d="M1103.3,844.2 L1113.3,920.8 Q1114.5,936 1100,940.5 L1086.7,942.5" fill="none" stroke="#1a1a1a" stroke-width="0.95"/>
<ellipse cx="1100" cy="913.3" rx="11.5" ry="8.6" transform="rotate(83 1100 913.3)" fill="none" stroke="#1a1a1a" stroke-width="0.95"/>
<ellipse cx="1100" cy="913.3" rx="9.2" ry="6.3" transform="rotate(83 1100 913.3)" fill="none" stroke="#1a1a1a" stroke-width="0.85"/>
<circle cx="1100" cy="913.3" r="1.1" fill="none" stroke="#1a1a1a" stroke-width="0.85"/>
<polygon points="1070,997.5 1095,994.5 1096,1005 1070.8,1008" fill="#000"/>
<polygon points="1155.8,835.8 1160,868.3 1158.02,868.56 1153.82,836.06" fill="none" stroke="#1a1a1a" stroke-width="0.95"/>
<polyline points="1160,868.3 1156.58,868.56 1153.15,868.46 1149.75,868.01 1146.42,867.2 1143.19,866.05 1140.09,864.56 1137.17,862.76 1134.46,860.67 1131.98,858.3 1129.75,855.69 1127.82,852.86 1126.19,849.84 1124.88,846.67 1123.92,843.37 1123.3,840 1123.04,836.58" fill="none" stroke="#1a1a1a" stroke-width="0.95"/>
<polyline points="1155.8,831.7 1157.9,831.61 1160.81,831.47 1164.26,831.31 1167.96,831.16 1171.63,831.04 1175,831 1178.12,831.02 1181.23,831.07 1184.31,831.16 1187.35,831.3 1190.35,831.47 1193.3,831.7 1196.18,832 1198.99,832.37 1201.75,832.78 1204.49,833.21 1207.24,833.63 1210,834 1212.78,834.36 1215.57,834.73 1218.36,835.09 1221.14,835.41 1223.92,835.66 1226.7,835.8 1229.38,835.87 1231.96,835.88 1234.53,835.82 1237.21,835.67 1240.09,835.41 1243.3,835 1247.17,834.35 1251.7,833.46 1256.44,832.45 1260.94,831.45 1264.78,830.59 1267.5,830" fill="none" stroke="#000" stroke-width="4.4" stroke-linejoin="round" stroke-linecap="butt"/>
<polyline points="1165,836.7 1196.7,943.3" fill="none" stroke="#1a1a1a" stroke-width="0.95"/>
<polygon points="1168.3,852.5 1217.5,838.3 1245,913.3 1195.8,930" fill="none" stroke="#1a1a1a" stroke-width="0.95"/>
<rect x="-19" y="-35" width="38" height="70" rx="3" transform="translate(1206.5 884) rotate(-18)" fill="none" stroke="#1a1a1a" stroke-width="0.95"/>
<polygon points="1220.8,838.3 1226.7,839.2 1265.8,959.2 1260,960.8" fill="#000"/>
<polygon points="1195.8,933.3 1247.5,918.3 1249.2,923.3 1197.5,938.3" fill="#000"/>
<polygon points="1195.8,934 1200.8,932.5 1202,944 1197,945" fill="#000"/>
<g transform="translate(1249 940.5) rotate(160)"><ellipse cx="13.5" cy="0" rx="10" ry="7.5" fill="#fff" stroke="#1a1a1a" stroke-width="0.95"/><rect x="-4" y="-9.5" width="8" height="19" fill="#fff" stroke="#1a1a1a" stroke-width="0.95"/></g>
<polygon points="1207.5,976.7 1177.5,959.2 1176.49,960.93 1206.49,978.43" fill="none" stroke="#1a1a1a" stroke-width="0.95"/>
<polyline points="1177.5,959.2 1178.29,957.91 1179.14,956.65 1180.04,955.43 1180.99,954.26 1182,953.12 1183.05,952.03 1184.15,950.99 1185.29,949.99 1186.48,949.05 1187.71,948.16 1188.97,947.32 1190.27,946.54 1191.6,945.82 1192.96,945.16 1194.35,944.55 1195.77,944.01" fill="none" stroke="#1a1a1a" stroke-width="0.95"/>
<polygon points="1206,975 1211,977.5 1210,980.5 1205,978" fill="#000"/>
<polyline points="1243.3,839.2 1276.7,940 1337.5,915.8 1313.3,860.8 1326.7,855.8" fill="none" stroke="#1a1a1a" stroke-width="0.95" stroke-dasharray="6 3"/>
<polyline points="1269.2,830 1288.3,849.2 1300,820" fill="none" stroke="#1a1a1a" stroke-width="0.95"/>
<polygon points="1288.3,849.2 1300,820 1298.14,819.26 1286.44,848.46" fill="none" stroke="#1a1a1a" stroke-width="0.85"/>
<path d="M1269.2,830 Q1275,845 1288.3,849.2" fill="none" stroke="#1a1a1a" stroke-width="0.95"/>
<polygon points="1304.2,939.2 1330,929.2 1334.5,938.5 1308,949.5" fill="#000"/>
<polygon points="1307.5,813.3 1313.3,811.7 1362.5,920.8 1356.7,923.3" fill="#000"/>
<polygon points="1300,810 1316.7,800 1319,804 1302,814.5" fill="#000"/>
<polygon points="1316.7,800 1344.2,788.3 1345.2,790.5 1317.7,802.3" fill="#000"/>
<polyline points="1344.2,788.3 1357.5,783" fill="none" stroke="#666" stroke-width="1.3"/>
<polyline points="1334.2,800 1350,833.3 1326.7,845" fill="none" stroke="#1a1a1a" stroke-width="0.95"/>
<ellipse cx="1331.7" cy="821.7" rx="10" ry="7.5" transform="rotate(63 1331.7 821.7)" fill="none" stroke="#1a1a1a" stroke-width="0.95"/>
<ellipse cx="1331.7" cy="821.7" rx="7.7" ry="5.2" transform="rotate(63 1331.7 821.7)" fill="none" stroke="#1a1a1a" stroke-width="0.85"/>
<circle cx="1331.7" cy="821.7" r="1.1" fill="none" stroke="#1a1a1a" stroke-width="0.85"/>
<g transform="translate(1339 861) rotate(-27)"><ellipse cx="12.5" cy="0" rx="10.5" ry="7.5" fill="#fff" stroke="#1a1a1a" stroke-width="0.95"/><rect x="-4" y="-9" width="8" height="18" fill="#fff" stroke="#1a1a1a" stroke-width="0.95"/></g>
<polygon points="1340.8,879.2 1378.3,862.5 1380,866.7 1343.3,883.3" fill="#000"/>
<polygon points="1406.7,845 1375,836.7 1375.51,834.77 1407.21,843.07" fill="none" stroke="#1a1a1a" stroke-width="0.95"/>
<polyline points="1375,836.7 1374.62,838.3 1374.33,839.92 1374.11,841.55 1373.98,843.19 1373.93,844.83 1373.96,846.47 1374.08,848.11 1374.28,849.75 1374.56,851.37 1374.92,852.97 1375.36,854.55 1375.87,856.11 1376.47,857.65 1377.14,859.15 1377.89,860.61 1378.71,862.04" fill="none" stroke="#1a1a1a" stroke-width="0.95"/>
<polygon points="1406.7,844 1413.5,846.5 1412.5,849.5 1405.7,847" fill="#000"/>
<polyline points="1356.7,878.3 1435,881.7" fill="none" stroke="#1a1a1a" stroke-width="0.85"/>
<polyline points="1414.2,848.3 1375.8,915" fill="none" stroke="#1a1a1a" stroke-width="0.85"/>
<polyline points="1356.7,878.3 1373.3,914.2" fill="none" stroke="#1a1a1a" stroke-width="0.85"/>
<polyline points="1370.5,750 1370.85,748.2 1371.32,745.64 1371.9,742.68 1372.63,739.68 1373.5,737 1374.54,734.63 1375.73,732.34 1377.05,730.12 1378.48,728.01 1380,726 1381.62,724.08 1383.37,722.25 1385.21,720.53 1387.1,718.94 1389,717.5 1390.92,716.23 1392.88,715.1 1394.88,714.12 1396.92,713.25 1399,712.5 1401.12,711.87 1403.28,711.36 1405.48,710.98 1407.72,710.69 1410,710.5 1412.35,710.39 1414.78,710.38 1417.22,710.46 1419.65,710.67 1422,711 1424.26,711.48 1426.47,712.09 1428.65,712.81 1430.82,713.62 1433,714.5 1435.18,715.42 1437.35,716.39 1439.53,717.45 1441.74,718.64 1444,720 1446.33,721.53 1448.71,723.2 1451.13,725.02 1453.56,726.95 1456,729 1458.43,731.16 1460.88,733.44 1463.34,735.84 1465.81,738.36 1468.3,741 1470.83,743.78 1473.38,746.71 1475.95,749.75 1478.5,752.86 1481,756 1483.47,759.17 1485.92,762.4 1488.34,765.68 1490.71,769.05 1493,772.5 1495.23,776.06 1497.4,779.73 1499.52,783.47 1501.55,787.24 1503.5,791 1505.36,794.8 1507.14,798.66 1508.84,802.52 1510.46,806.32 1512,810 1513.53,813.8 1515.06,817.76 1516.46,821.52 1517.65,824.72 1518.5,827" fill="none" stroke="#000" stroke-width="5" stroke-linejoin="round" stroke-linecap="butt"/>
<polygon points="1367.8,749 1373.3,747.5 1440,879.2 1433.3,883.3" fill="#000"/>
<polygon points="1373.5,772.5 1380.5,775.7 1379,778.7 1372,775.5" fill="#000"/>
<polygon points="1405,812.5 1455.5,782 1458.5,787 1408,817.5" fill="#000"/>
<polygon points="1436.7,800.5 1441.7,797.5 1447.5,817 1415,835 1412.5,830 1441,814" fill="#000"/>
<polyline points="1407.5,819.2 1439.2,815" fill="none" stroke="#1a1a1a" stroke-width="0.85"/>
<polyline points="1410.8,833.3 1433.3,805" fill="none" stroke="#1a1a1a" stroke-width="0.85"/>
<polygon points="1460,798.3 1479.2,785.8 1492.5,806.7 1472.5,819.2" fill="none" stroke="#1a1a1a" stroke-width="0.95"/>
<circle cx="1441.7" cy="840.8" r="15" fill="none" stroke="#1a1a1a" stroke-width="0.95"/>
<path d="M622.5,697.5 L628.1,688.1 Q594,667 561.9,651.3 L561.9,656.3 Q592,672 622.5,697.5 Z" fill="#000"/>
<path d="M628.1,688.1 Q594,667.5 561.9,650.5 L561.9,656.6 Q592,679 622.5,697.5 Z" fill="#000"/>
<path d="M516.9,616.3 Q540,634 561.9,651.3" fill="none" stroke="#000" stroke-width="1.5"/>
<path d="M513.1,621.3 Q538,640 561.9,656.3" fill="none" stroke="#000" stroke-width="1.5"/>
<path d="M515.5,619.2 Q528,629 541,639.5" fill="none" stroke="#888" stroke-width="1.8"/>
<polygon points="494.85,603.74 539.25,639.04 540.75,637.16 496.35,601.86" fill="none" stroke="#1a1a1a" stroke-width="0.85"/>
<polygon points="549.4,641.9 569.4,611.3 580,617.5 578.1,621.9 570.6,617.5 554.4,643.8" fill="#000"/>
<polygon points="631.3,653.8 643.8,658.1 641.3,662.5 630.6,656.9" fill="#000"/>
<polygon points="580,618.1 596.9,591.9 595.22,590.82 578.32,617.02" fill="none" stroke="#1a1a1a" stroke-width="0.85"/>
<path d="M596.9,591.9 Q611.5,603 611.3,615 Q611,627 606.3,635" fill="none" stroke="#1a1a1a" stroke-width="0.95"/>
<polygon points="631.9,651.9 649.4,625 651.08,626.09 633.58,652.99" fill="none" stroke="#1a1a1a" stroke-width="0.85"/>
<path d="M649.4,625 Q632,617 619,624 Q611,629 606.3,635" fill="none" stroke="#1a1a1a" stroke-width="0.95"/>
<polyline points="560,631.3 633.1,676.3" fill="none" stroke="#1a1a1a" stroke-width="0.95" stroke-dasharray="6 3"/>
<path d="M1301.3,690 Q1322,680 1340,671.3 L1340,676.3 Q1325,685 1309.4,694.4 Z" fill="#000"/>
<path d="M1340,671.8 Q1375,652 1403.8,629.3" fill="none" stroke="#000" stroke-width="1.5"/>
<path d="M1340,676.5 Q1377,657 1406.3,634.4" fill="none" stroke="#000" stroke-width="1.5"/>
<path d="M1379,650 Q1392,641 1405,631.5" fill="none" stroke="#888" stroke-width="2.2"/>
<path d="M1406.3,631.3 Q1425,617 1441.3,602.8" fill="none" stroke="#888" stroke-width="1.2"/>
<polygon points="1367.5,613.1 1386.9,639.4 1381.9,643.1 1365.6,620 1358.8,624.4 1356.3,620" fill="#000"/>
<polygon points="1290,660 1295.6,657.5 1298.1,661.3 1291.9,665" fill="#000"/>
<polygon points="1295.6,657.5 1305.6,622.5 1307.52,623.05 1297.52,658.05" fill="none" stroke="#1a1a1a" stroke-width="0.85"/>
<path d="M1305.6,622.5 Q1318,627 1326.3,638.1" fill="none" stroke="#1a1a1a" stroke-width="0.95"/>
<polygon points="1356.9,621.3 1322.5,611.9 1323.03,609.97 1357.43,619.37" fill="none" stroke="#1a1a1a" stroke-width="0.85"/>
<path d="M1322.5,611.9 Q1318,626 1326.3,638.1" fill="none" stroke="#1a1a1a" stroke-width="0.95"/>
<polyline points="1296.3,677.5 1371.9,632.5" fill="none" stroke="#1a1a1a" stroke-width="0.95" stroke-dasharray="6 3"/>
<polyline points="1533.9,668.4 1555.2,646.6 1581.3,673.1" fill="none" stroke="#1a1a1a" stroke-width="0.95"/>
<polyline points="1536,671 1557.8,648.6" fill="none" stroke="#1a1a1a" stroke-width="0.95"/>
<path d="M1534.9,669.5 Q1526.5,680 1529.5,688 Q1531,693 1535,697.5 L1568.2,730.4 L1571.9,725.7" fill="none" stroke="#000" stroke-width="4.7" stroke-linejoin="miter"/>
<polyline points="1550.5,707 1582.3,675.7" fill="none" stroke="#000" stroke-width="4.7" stroke-linejoin="round" stroke-linecap="butt"/>
<polyline points="1581,672.5 1607.5,699.5" fill="none" stroke="#000" stroke-width="4.7" stroke-linejoin="round" stroke-linecap="butt"/>
<polygon points="1594.3,699.7 1600,694.5 1604.5,699.5 1599,704" fill="#000"/>
<polygon points="1597.4,703.9 1608.3,714.8 1609.71,713.39 1598.81,702.49" fill="none" stroke="#1a1a1a" stroke-width="0.85"/>
<path d="M1608.3,714.8 Q1600,720 1591.7,717.9 L1586.5,714.3" fill="none" stroke="#1a1a1a" stroke-width="0.95"/>
<polygon points="1574.5,724.2 1586.5,737.2 1585.03,738.56 1573.03,725.56" fill="none" stroke="#1a1a1a" stroke-width="0.85"/>
<path d="M1586.5,737.2 Q1592,727 1589.6,719 L1586.5,714.3" fill="none" stroke="#1a1a1a" stroke-width="0.95"/>
<polyline points="1559.4,715.3 1588.5,687.7" fill="none" stroke="#1a1a1a" stroke-width="0.95" stroke-dasharray="6 3"/>
<path d="M409.4,274.4 L461.3,222.8 L499.7,261.6 L493.4,267.8 L491.6,267 L486.3,272.8 L470.9,257.4 A13.5,13.5 0 0 0 451.8,257.4 L422.2,286.9 Z" fill="#000"/>
<path d="M1433.4,269.1 L1485.3,218.1 L1522.8,255.3 L1510.3,268.1 L1494.6,252.4 A13,13 0 0 0 1476.2,252.6 L1446.6,282.2 Z" fill="#000"/>
<path fill-rule="evenodd" fill="#000" d="M176.7,1040 L346.7,1040 L302.7,1328.3 L157.7,1328.3 L126,1118.3 L176.7,1118.3 Z M186,1050 L186,1128.3 L136.7,1128.3 L165.7,1318.3 L293.3,1318.3 L335,1050 Z"/>
<polygon points="175.7,1317.8 285,1317.8 285,1328.8 175.7,1328.8" fill="#fff"/>
<polygon points="199.5,1318.3 203.3,1318.3 203.3,1328.3 199.5,1328.3" fill="#000"/>
<polygon points="259.3,1318.3 262.5,1318.3 262.5,1328.3 259.3,1328.3" fill="#000"/>
<polyline points="175.7,1318.8 199.5,1318.8" fill="none" stroke="#1a1a1a" stroke-width="0.85"/>
<polyline points="175.7,1322 199.5,1322" fill="none" stroke="#1a1a1a" stroke-width="0.85"/>
<polyline points="175.7,1325 199.5,1325" fill="none" stroke="#1a1a1a" stroke-width="0.85"/>
<polyline points="175.7,1327.8 199.5,1327.8" fill="none" stroke="#1a1a1a" stroke-width="0.85"/>
<polyline points="262.5,1318.8 285,1318.8" fill="none" stroke="#1a1a1a" stroke-width="0.85"/>
<polyline points="262.5,1322 285,1322" fill="none" stroke="#1a1a1a" stroke-width="0.85"/>
<polyline points="262.5,1325 285,1325" fill="none" stroke="#1a1a1a" stroke-width="0.85"/>
<polyline points="262.5,1327.8 285,1327.8" fill="none" stroke="#1a1a1a" stroke-width="0.85"/>
<polyline points="203.3,1328.3 203.3,1356 205.3,1356 205.3,1328.3" fill="none" stroke="#1a1a1a" stroke-width="0.85"/>
<polyline points="259.3,1328.3 259.3,1356 257.3,1356 257.3,1328.3" fill="none" stroke="#1a1a1a" stroke-width="0.85"/>
<polyline points="201.5,1356 213,1356" fill="none" stroke="#1a1a1a" stroke-width="0.85"/>
<polyline points="250,1356 261,1356" fill="none" stroke="#1a1a1a" stroke-width="0.85"/>
<path d="M205.3,1356 Q228,1352 231,1328.3" fill="none" stroke="#1a1a1a" stroke-width="0.95"/>
<path d="M257.3,1356 Q234,1352 231,1328.3" fill="none" stroke="#1a1a1a" stroke-width="0.95"/>
<polyline points="186,1076.7 266.7,1076.7" fill="none" stroke="#1a1a1a" stroke-width="0.95"/>
<polyline points="186,1062.7 219,1062.7" fill="none" stroke="#1a1a1a" stroke-width="0.95" stroke-dasharray="6 3"/>
<polyline points="245,1062.7 266.7,1062.7" fill="none" stroke="#1a1a1a" stroke-width="0.95" stroke-dasharray="6 3"/>
<polyline points="266.7,1050 266.7,1081.7 331,1081.7" fill="none" stroke="#1a1a1a" stroke-width="0.95"/>
<polyline points="299.3,1050 299.3,1081.7" fill="none" stroke="#1a1a1a" stroke-width="0.95"/>
<polyline points="331,1050 331,1081.7" fill="none" stroke="#1a1a1a" stroke-width="0.95"/>
<rect x="219" y="1052.7" width="26" height="20.6" rx="1" fill="#fff" stroke="#1a1a1a" stroke-width="0.95"/><rect x="221.5" y="1056" width="21" height="14.8" rx="2" fill="none" stroke="#1a1a1a" stroke-width="0.85"/>
<polyline points="232,1054 232,1063" fill="none" stroke="#444" stroke-width="1"/>
<polyline points="229,1054.5 235,1054.5" fill="none" stroke="#444" stroke-width="1"/>
<circle cx="232" cy="1064" r="1.2" fill="none" stroke="#1a1a1a" stroke-width="0.6"/>
<polyline points="186,1128.3 268.3,1128.3 268.3,1170 143,1170" fill="none" stroke="#1a1a1a" stroke-width="0.95"/>
<polyline points="141,1155 268.3,1155" fill="none" stroke="#1a1a1a" stroke-width="0.95"/>
<path fill-rule="evenodd" fill="#000" d="M1603.3,1042.3 L1738.3,1042.3 L1738.3,1328.3 L1603.3,1328.3 Z M1613.3,1052.3 L1613.3,1318.3 L1728.3,1318.3 L1728.3,1052.3 Z"/>
<polygon points="1635.7,1317.8 1699.3,1317.8 1699.3,1328.8 1635.7,1328.8" fill="#fff"/>
<polyline points="1635.7,1328.3 1635.7,1360 1637.7,1360 1637.7,1328.3" fill="none" stroke="#1a1a1a" stroke-width="0.85"/>
<polyline points="1699.3,1328.3 1699.3,1360 1697.3,1360 1697.3,1328.3" fill="none" stroke="#1a1a1a" stroke-width="0.85"/>
<polyline points="1634.5,1360 1646,1360" fill="none" stroke="#1a1a1a" stroke-width="0.85"/>
<polyline points="1689,1360 1700.5,1360" fill="none" stroke="#1a1a1a" stroke-width="0.85"/>
<path d="M1637.7,1360 Q1664,1356 1667.3,1328.3" fill="none" stroke="#1a1a1a" stroke-width="0.95"/>
<path d="M1697.3,1360 Q1671,1356 1667.3,1328.3" fill="none" stroke="#1a1a1a" stroke-width="0.95"/>
<polyline points="1635.7,1328.3 1699.3,1328.3" fill="none" stroke="#1a1a1a" stroke-width="0.85"/>
<ellipse cx="1630" cy="1075" rx="11" ry="9.5" fill="#fff" stroke="#1a1a1a" stroke-width="0.95"/><rect x="1614.3" y="1065" width="5.5" height="20" fill="#fff" stroke="#1a1a1a" stroke-width="0.95"/>
<polyline points="1703.3,1052.3 1703.3,1140 1728.3,1140" fill="none" stroke="#1a1a1a" stroke-width="0.95"/>
<ellipse cx="1716" cy="1081" rx="8.7" ry="11" transform="rotate(0 1716 1081)" fill="none" stroke="#1a1a1a" stroke-width="0.95"/>
<ellipse cx="1716" cy="1081" rx="6.6" ry="8.8" transform="rotate(0 1716 1081)" fill="none" stroke="#1a1a1a" stroke-width="0.85"/>
<circle cx="1716" cy="1081" r="1.1" fill="none" stroke="#1a1a1a" stroke-width="0.85"/>
<polygon points="1613.3,1097.7 1656.7,1097.7 1656.7,1103.3 1613.3,1103.3" fill="#000"/>
<polygon points="1652.3,1135 1656.7,1135 1656.7,1155 1652.3,1155" fill="#000"/>
<polygon points="1613.3,1150.7 1656.7,1150.7 1656.7,1155 1613.3,1155" fill="#000"/>
<polygon points="1614.3,1104 1651,1104 1651,1149 1614.3,1149" fill="none" stroke="#1a1a1a" stroke-width="0.7"/>
<polyline points="1614.3,1104 1651,1149" fill="none" stroke="#1a1a1a" stroke-width="0.85"/>
<polyline points="1651,1104 1614.3,1149" fill="none" stroke="#1a1a1a" stroke-width="0.85"/>
<path d="M1656.7,1103.3 Q1672,1104 1678.3,1113.3" fill="none" stroke="#1a1a1a" stroke-width="0.95"/>
<polygon points="1678.3,1113.3 1655,1135 1653.64,1133.54 1676.94,1111.84" fill="none" stroke="#1a1a1a" stroke-width="0.85"/>
<polygon points="1633.24,1158.3 1678.24,1161 1678.36,1159 1633.36,1156.3" fill="none" stroke="#1a1a1a" stroke-width="0.85"/>
<polygon points="1656.64,1161.7 1702.64,1164.3 1702.76,1162.3 1656.76,1159.7" fill="none" stroke="#1a1a1a" stroke-width="0.85"/>
<text x="955.5" y="1408" font-size="17.1" text-anchor="middle" font-family="'Liberation Serif','DejaVu Serif',serif" fill="#000" textLength="1035" lengthAdjust="spacingAndGlyphs" stroke="#000" stroke-width="0.29" stroke-linejoin="round">Notice: This rendering is for marketing purposes only. All measurements, features and specifications are approximate. The accuracy of this information</text>
<text x="955.5" y="1427.3" font-size="17.1" text-anchor="middle" font-family="'Liberation Serif','DejaVu Serif',serif" fill="#000" textLength="886.4" lengthAdjust="spacingAndGlyphs" stroke="#000" stroke-width="0.29" stroke-linejoin="round">is subject to errors, omissions and changes. An architect should be contacted for actual measurements, features and specifications.</text>
<text x="3.3" y="1430" font-size="41.3" text-anchor="start" font-family="'Liberation Sans','DejaVu Sans',sans-serif" fill="#000">©2026</text>
<text x="138.3" y="1430" font-size="41.3" text-anchor="start" font-family="'Liberation Sans','DejaVu Sans',sans-serif" fill="#000">PBBOR</text>
<text x="290" y="1430" font-size="41.3" text-anchor="start" font-family="'Liberation Sans','DejaVu Sans',sans-serif" fill="#000">No</text>
<text x="355" y="1430" font-size="41.3" text-anchor="start" font-family="'Liberation Sans','DejaVu Sans',sans-serif" fill="#000">reproduction</text>
<text x="597" y="1430" font-size="41.3" text-anchor="start" font-family="'Liberation Sans','DejaVu Sans',sans-serif" fill="#000">without</text>
<text x="735.5" y="1430" font-size="41.3" text-anchor="start" font-family="'Liberation Sans','DejaVu Sans',sans-serif" fill="#000">permission</text>
<text x="942.5" y="1430" font-size="41.3" text-anchor="start" font-family="'Liberation Sans','DejaVu Sans',sans-serif" fill="#000">of</text>
<text x="990" y="1430" font-size="41.3" text-anchor="start" font-family="'Liberation Sans','DejaVu Sans',sans-serif" fill="#000">listing</text>
<text x="1111.5" y="1430" font-size="41.3" text-anchor="start" font-family="'Liberation Sans','DejaVu Sans',sans-serif" fill="#000">broker</text>
<text x="4.35" y="1430" font-size="41.3" text-anchor="start" font-family="'Liberation Sans','DejaVu Sans',sans-serif" fill="#fff">©2026</text>
<text x="139.35" y="1430" font-size="41.3" text-anchor="start" font-family="'Liberation Sans','DejaVu Sans',sans-serif" fill="#fff">PBBOR</text>
<text x="291.05" y="1430" font-size="41.3" text-anchor="start" font-family="'Liberation Sans','DejaVu Sans',sans-serif" fill="#fff">No</text>
<text x="356.05" y="1430" font-size="41.3" text-anchor="start" font-family="'Liberation Sans','DejaVu Sans',sans-serif" fill="#fff">reproduction</text>
<text x="598.05" y="1430" font-size="41.3" text-anchor="start" font-family="'Liberation Sans','DejaVu Sans',sans-serif" fill="#fff">without</text>
<text x="736.55" y="1430" font-size="41.3" text-anchor="start" font-family="'Liberation Sans','DejaVu Sans',sans-serif" fill="#fff">permission</text>
<text x="943.55" y="1430" font-size="41.3" text-anchor="start" font-family="'Liberation Sans','DejaVu Sans',sans-serif" fill="#fff">of</text>
<text x="991.05" y="1430" font-size="41.3" text-anchor="start" font-family="'Liberation Sans','DejaVu Sans',sans-serif" fill="#fff">listing</text>
<text x="1112.55" y="1430" font-size="41.3" text-anchor="start" font-family="'Liberation Sans','DejaVu Sans',sans-serif" fill="#fff">broker</text>
</svg></body></html>
